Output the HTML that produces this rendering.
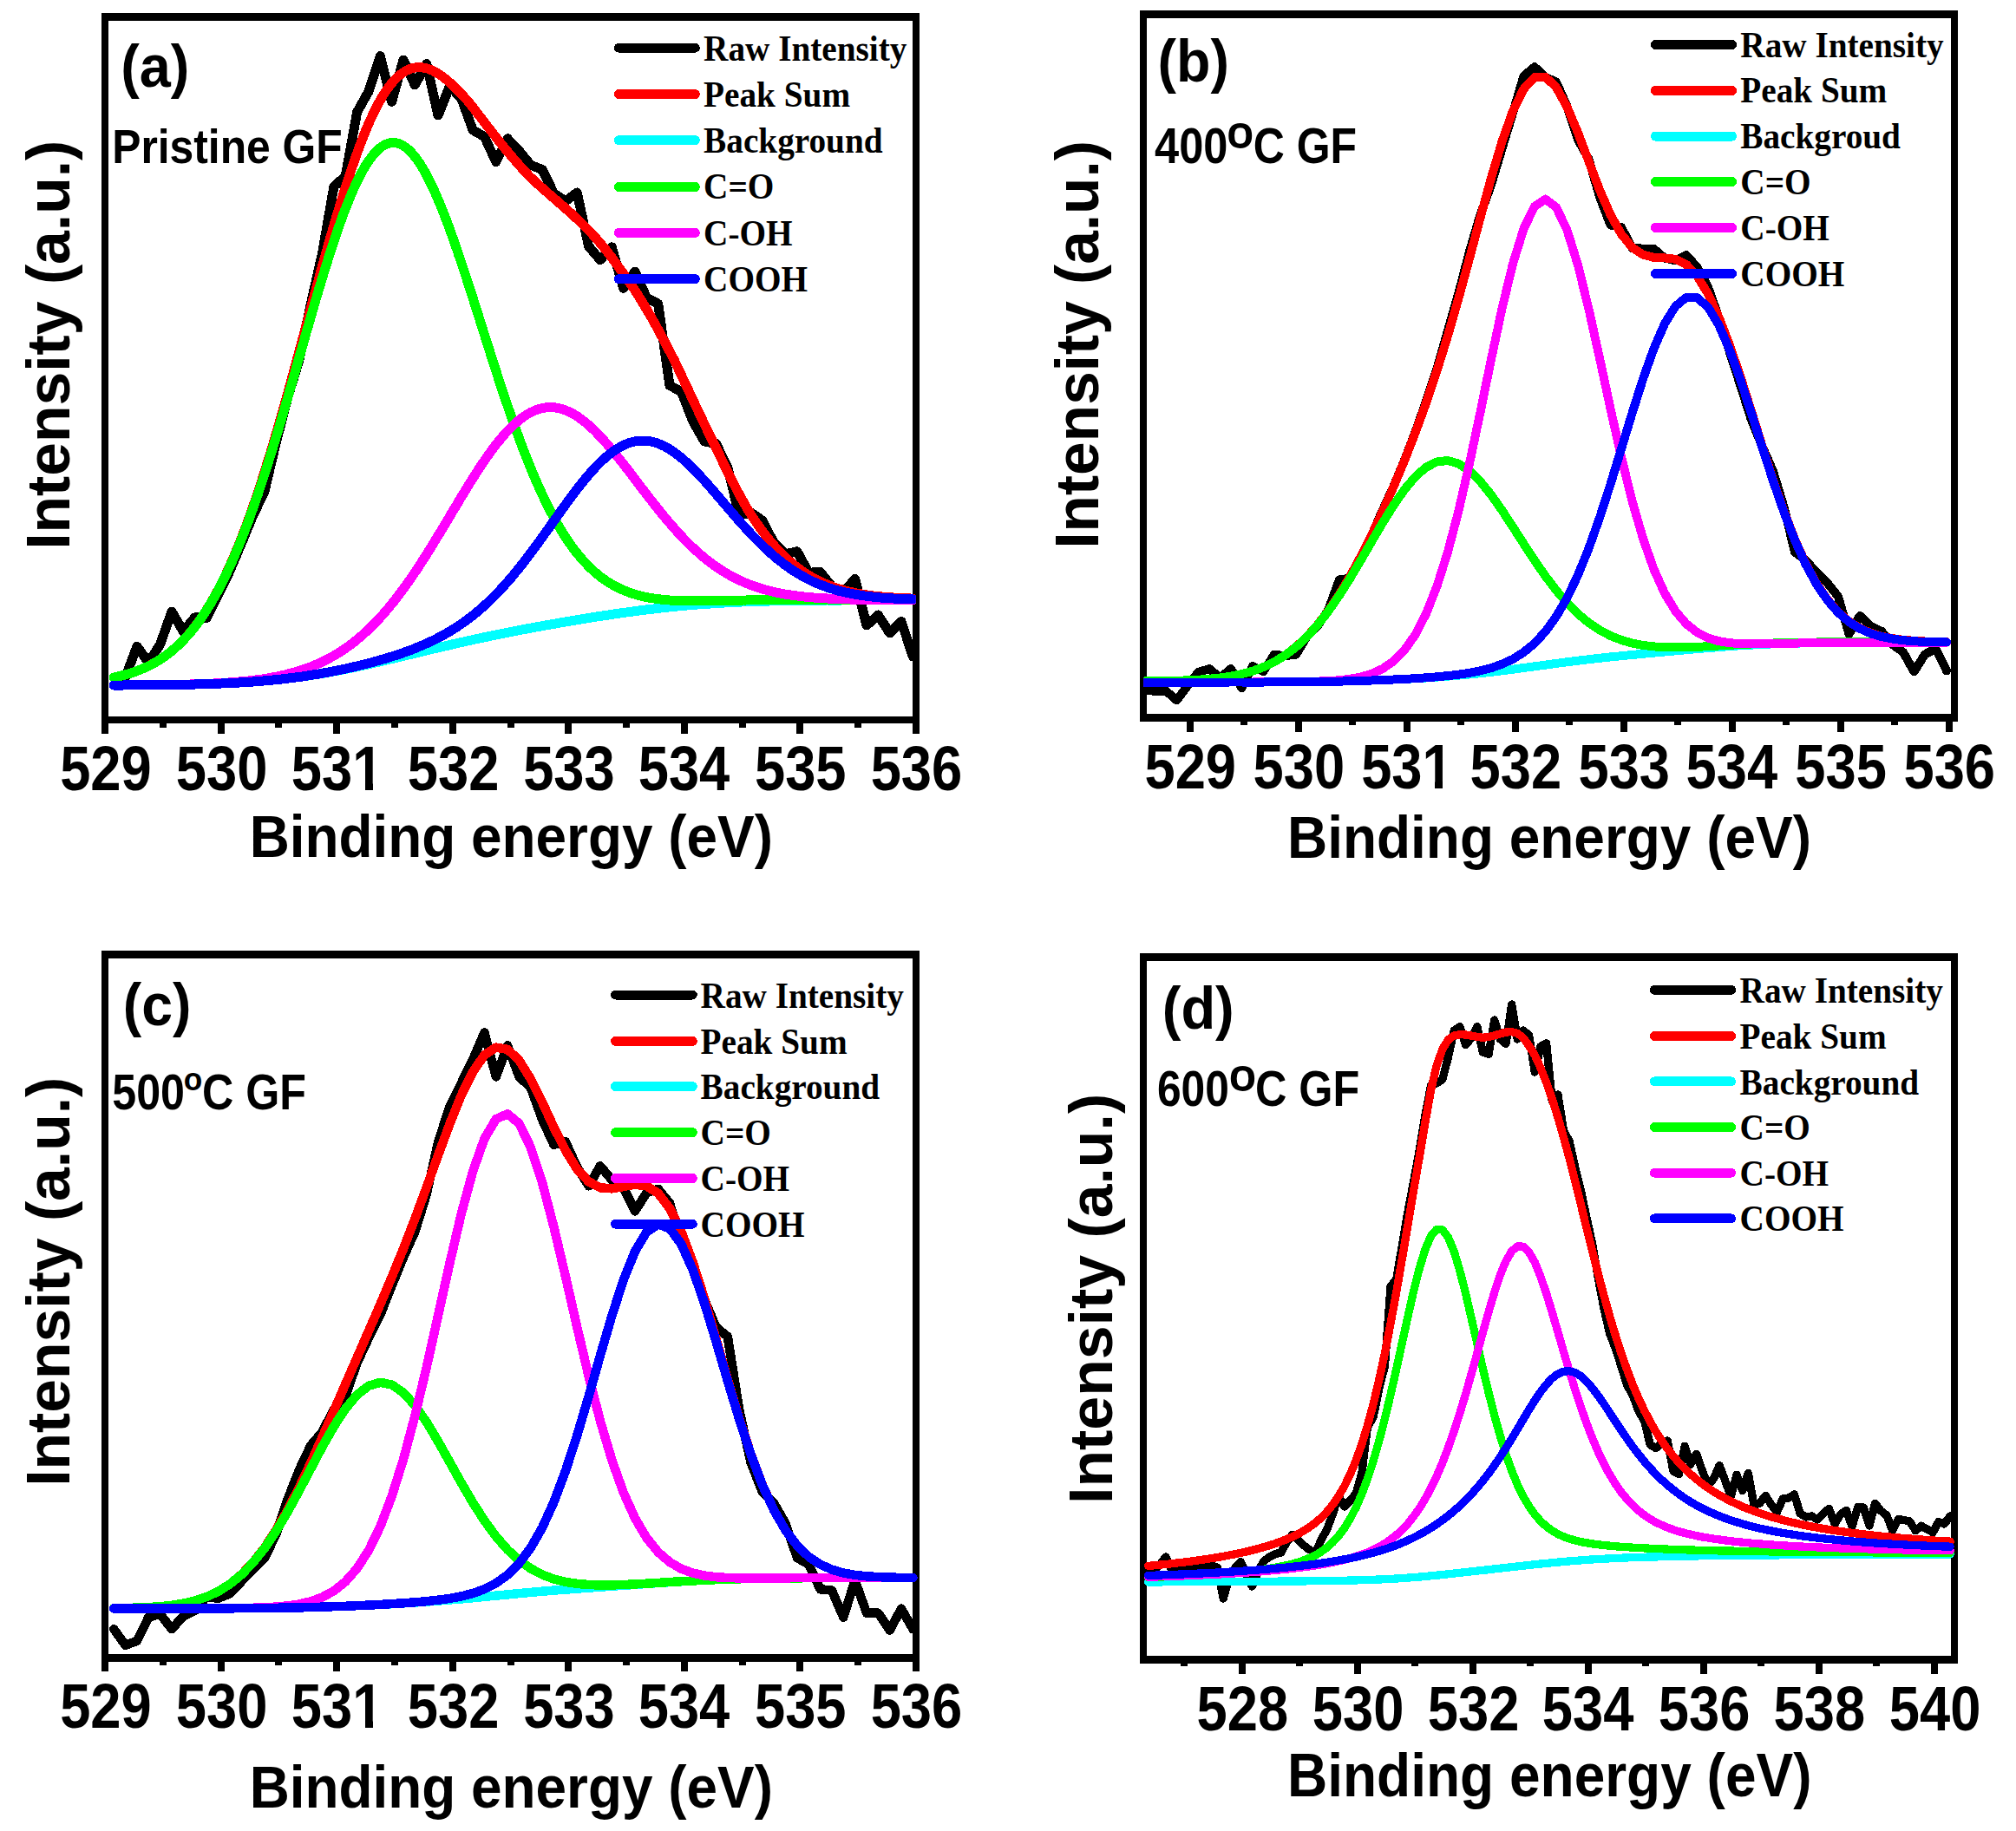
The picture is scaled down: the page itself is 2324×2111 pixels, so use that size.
<!DOCTYPE html><html><head><meta charset="utf-8"><title>XPS O1s</title><style>html,body{margin:0;padding:0;background:#fff}svg{display:block}</style></head><body><svg width="2324" height="2111" viewBox="0 0 2324 2111" shape-rendering="crispEdges">
<rect width="2324" height="2111" fill="#fff"/>
<clipPath id="clipa"><rect x="121.0" y="19.6" width="934.8" height="810.7"/></clipPath>
<path d="M117 15.1H1059.8V834.4H117Z M125 24.0V826.1H1051.9V24.0Z" fill="#000" fill-rule="evenodd"/>
<rect x="117.2" y="833.4" width="8" height="12.9" fill="#000"/>
<rect x="250.7" y="833.4" width="8" height="12.9" fill="#000"/>
<rect x="384.2" y="833.4" width="8" height="12.9" fill="#000"/>
<rect x="517.7" y="833.4" width="8" height="12.9" fill="#000"/>
<rect x="651.2" y="833.4" width="8" height="12.9" fill="#000"/>
<rect x="784.7" y="833.4" width="8" height="12.9" fill="#000"/>
<rect x="918.2" y="833.4" width="8" height="12.9" fill="#000"/>
<rect x="1051.7" y="833.4" width="8" height="12.9" fill="#000"/>
<rect x="183.9" y="833.4" width="8" height="5.2" fill="#000"/>
<rect x="317.4" y="833.4" width="8" height="5.2" fill="#000"/>
<rect x="450.9" y="833.4" width="8" height="5.2" fill="#000"/>
<rect x="584.5" y="833.4" width="8" height="5.2" fill="#000"/>
<rect x="718.0" y="833.4" width="8" height="5.2" fill="#000"/>
<rect x="851.5" y="833.4" width="8" height="5.2" fill="#000"/>
<rect x="985.0" y="833.4" width="8" height="5.2" fill="#000"/>
<g clip-path="url(#clipa)" fill="none" stroke-linejoin="round" stroke-linecap="round">
<polyline points="131.2,781.0 144.6,780.8 157.9,745.3 171.3,764.0 184.6,743.0 198.0,705.1 211.3,728.0 224.7,711.8 238.0,712.5 251.4,686.1 264.7,658.8 278.1,627.1 291.4,595.0 304.8,567.0 318.1,511.0 331.5,459.2 344.8,415.4 358.2,350.9 371.5,292.0 384.9,215.0 398.2,203.3 411.6,129.3 424.9,105.5 438.3,64.6 451.6,117.4 465.0,69.0 478.3,98.0 491.7,73.5 505.0,133.0 518.4,99.5 531.7,113.0 545.1,150.0 558.4,157.6 571.8,186.6 585.1,159.8 598.5,174.0 611.8,190.3 625.2,195.5 638.5,223.0 651.9,232.0 665.2,222.0 678.6,284.0 691.9,299.7 705.3,284.8 718.6,332.4 732.0,313.1 745.3,343.0 758.7,350.3 772.0,444.5 785.4,451.5 798.7,485.5 812.1,509.0 825.4,511.3 838.8,539.0 852.1,594.0 865.5,591.0 878.8,600.0 892.2,625.9 905.5,638.8 918.9,635.8 932.2,660.2 945.6,659.6 958.9,676.0 972.3,683.0 985.6,667.5 999.0,721.0 1012.3,709.0 1025.7,730.0 1039.0,716.4 1052.4,757.0" stroke="#000" stroke-width="11"/>
<polyline points="131.2,781.0 133.9,780.5 136.6,779.9 139.2,779.2 141.9,778.6 144.6,777.8 147.2,777.1 149.9,776.3 152.6,775.4 155.2,774.5 157.9,773.5 160.6,772.5 163.3,771.4 165.9,770.3 168.6,769.1 171.3,767.8 173.9,766.4 176.6,765.0 179.3,763.5 181.9,761.9 184.6,760.2 187.3,758.5 190.0,756.6 192.6,754.6 195.3,752.6 198.0,750.4 200.6,748.2 203.3,745.8 206.0,743.3 208.6,740.7 211.3,738.0 214.0,735.1 216.7,732.1 219.3,729.0 222.0,725.8 224.7,722.4 227.3,718.8 230.0,715.2 232.7,711.3 235.3,707.4 238.0,703.2 240.7,698.9 243.4,694.5 246.0,689.9 248.7,685.1 251.4,680.1 254.0,675.0 256.7,669.7 259.4,664.3 262.0,658.6 264.7,652.8 267.4,646.8 270.1,640.6 272.7,634.3 275.4,627.8 278.1,621.1 280.7,614.2 283.4,607.2 286.1,600.0 288.7,592.6 291.4,585.0 294.1,577.3 296.8,569.4 299.4,561.4 302.1,553.2 304.8,544.8 307.4,536.3 310.1,527.7 312.8,518.9 315.4,510.0 318.1,501.0 320.8,491.8 323.5,482.5 326.1,473.2 328.8,463.7 331.5,454.2 334.1,444.6 336.8,434.9 339.5,425.1 342.1,415.3 344.8,405.4 347.5,395.6 350.2,385.7 352.8,375.7 355.5,365.8 358.2,355.9 360.8,346.0 363.5,336.2 366.2,326.4 368.8,316.6 371.5,307.0 374.2,297.4 376.9,287.8 379.5,278.4 382.2,269.1 384.9,260.0 387.5,250.9 390.2,242.0 392.9,233.3 395.5,224.7 398.2,216.3 400.9,208.1 403.6,199.9 406.2,191.9 408.9,184.2 411.6,176.7 414.2,169.4 416.9,162.4 419.6,155.6 422.2,149.0 424.9,142.8 427.6,136.8 430.3,131.1 432.9,125.6 435.6,120.4 438.3,115.6 440.9,111.0 443.6,106.8 446.3,102.8 448.9,99.2 451.6,95.9 454.3,92.8 457.0,90.0 459.6,87.6 462.3,85.4 465.0,83.5 467.6,81.8 470.3,80.5 473.0,79.4 475.6,78.6 478.3,78.0 481.0,77.7 483.7,77.6 486.3,77.8 489.0,78.2 491.7,78.8 494.3,79.6 497.0,80.7 499.7,81.9 502.3,83.3 505.0,84.9 507.7,86.6 510.4,88.5 513.0,90.6 515.7,92.7 518.4,95.1 521.0,97.5 523.7,100.0 526.4,102.7 529.0,105.4 531.7,108.2 534.4,111.1 537.1,114.0 539.7,117.0 542.4,120.3 545.1,123.7 547.7,127.2 550.4,130.6 553.1,134.1 555.7,137.6 558.4,141.0 561.1,144.5 563.8,148.0 566.4,151.4 569.1,154.9 571.8,158.3 574.4,161.6 577.1,165.0 579.8,168.3 582.4,171.6 585.1,174.8 587.8,178.0 590.5,181.1 593.1,184.2 595.8,187.3 598.5,190.3 601.1,193.3 603.8,196.2 606.5,199.1 609.1,201.9 611.8,204.6 614.5,207.1 617.2,209.6 619.8,212.1 622.5,214.5 625.2,216.9 627.8,219.3 630.5,221.6 633.2,224.0 635.8,226.3 638.5,228.6 641.2,230.9 643.9,233.3 646.5,235.6 649.2,237.9 651.9,240.3 654.5,242.6 657.2,245.0 659.9,247.4 662.5,249.9 665.2,252.4 667.9,254.9 670.6,257.5 673.2,260.1 675.9,262.8 678.6,265.5 681.2,268.3 683.9,271.2 686.6,274.2 689.2,277.2 691.9,280.3 694.6,283.4 697.3,286.7 699.9,290.0 702.6,293.5 705.3,297.0 707.9,300.6 710.6,304.3 713.3,308.1 715.9,311.8 718.6,315.4 721.3,319.1 724.0,322.9 726.6,326.8 729.3,330.8 732.0,334.8 734.6,339.0 737.3,343.2 740.0,347.6 742.6,352.0 745.3,356.5 748.0,361.0 750.7,365.7 753.3,370.4 756.0,375.2 758.7,380.1 761.3,385.0 764.0,389.9 766.7,395.0 769.3,400.0 772.0,405.1 774.7,410.3 777.4,415.5 780.0,421.0 782.7,426.7 785.4,432.4 788.0,438.1 790.7,443.8 793.4,449.5 796.0,455.2 798.7,460.9 801.4,466.6 804.1,472.3 806.7,477.9 809.4,483.5 812.1,489.1 814.7,494.6 817.4,500.1 820.1,505.6 822.7,511.0 825.4,516.3 828.1,521.8 830.8,527.4 833.4,533.0 836.1,538.5 838.8,543.9 841.4,549.2 844.1,554.5 846.8,559.7 849.4,564.8 852.1,569.8 854.8,574.7 857.5,579.5 860.1,584.2 862.8,588.8 865.5,593.0 868.1,597.0 870.8,601.0 873.5,604.8 876.1,608.6 878.8,612.2 881.5,615.8 884.2,619.2 886.8,622.5 889.5,625.8 892.2,628.9 894.8,631.9 897.5,634.8 900.2,637.7 902.8,640.3 905.5,642.8 908.2,645.3 910.9,647.6 913.5,649.9 916.2,652.0 918.9,654.1 921.5,656.1 924.2,658.0 926.9,659.8 929.5,661.6 932.2,663.2 934.9,664.8 937.6,666.3 940.2,667.8 942.9,669.2 945.6,670.5 948.2,671.7 950.9,672.9 953.6,674.0 956.2,675.1 958.9,676.1 961.6,677.0 964.3,678.0 966.9,678.8 969.6,679.6 972.3,680.4 974.9,681.1 977.6,681.8 980.3,682.4 982.9,683.0 985.6,683.6 988.3,684.1 991.0,684.6 993.6,685.1 996.3,685.5 999.0,685.9 1001.6,686.3 1004.3,686.6 1007.0,687.0 1009.6,687.3 1012.3,687.6 1015.0,687.8 1017.7,688.1 1020.3,688.3 1023.0,688.6 1025.7,688.8 1028.3,688.9 1031.0,689.1 1033.7,689.3 1036.3,689.4 1039.0,689.6 1041.7,689.7 1044.4,689.8 1047.0,689.9 1049.7,690.0 1052.4,690.1" stroke="#f00" stroke-width="11"/>
<polyline points="131.2,790.0 133.9,790.0 136.6,790.0 139.2,790.0 141.9,790.0 144.6,789.9 147.2,789.9 149.9,789.9 152.6,789.9 155.2,789.9 157.9,789.9 160.6,789.9 163.3,789.8 165.9,789.8 168.6,789.8 171.3,789.8 173.9,789.8 176.6,789.7 179.3,789.7 181.9,789.7 184.6,789.7 187.3,789.6 190.0,789.6 192.6,789.6 195.3,789.5 198.0,789.5 200.6,789.5 203.3,789.4 206.0,789.4 208.6,789.3 211.3,789.3 214.0,789.2 216.7,789.2 219.3,789.1 222.0,789.1 224.7,789.0 227.3,788.9 230.0,788.9 232.7,788.8 235.3,788.7 238.0,788.6 240.7,788.5 243.4,788.5 246.0,788.4 248.7,788.3 251.4,788.2 254.0,788.1 256.7,787.9 259.4,787.8 262.0,787.7 264.7,787.6 267.4,787.4 270.1,787.3 272.7,787.2 275.4,787.0 278.1,786.9 280.7,786.7 283.4,786.5 286.1,786.3 288.7,786.2 291.4,786.0 294.1,785.8 296.8,785.6 299.4,785.4 302.1,785.1 304.8,784.9 307.4,784.7 310.1,784.4 312.8,784.2 315.4,783.9 318.1,783.6 320.8,783.4 323.5,783.1 326.1,782.8 328.8,782.5 331.5,782.2 334.1,781.9 336.8,781.5 339.5,781.2 342.1,780.8 344.8,780.5 347.5,780.1 350.2,779.7 352.8,779.4 355.5,779.0 358.2,778.6 360.8,778.1 363.5,777.7 366.2,777.3 368.8,776.9 371.5,776.4 374.2,776.0 376.9,775.5 379.5,775.0 382.2,774.5 384.9,774.0 387.5,773.5 390.2,773.0 392.9,772.5 395.5,772.0 398.2,771.5 400.9,770.9 403.6,770.4 406.2,769.8 408.9,769.3 411.6,768.7 414.2,768.1 416.9,767.6 419.6,767.0 422.2,766.4 424.9,765.8 427.6,765.2 430.3,764.6 432.9,764.0 435.6,763.4 438.3,762.7 440.9,762.1 443.6,761.5 446.3,760.9 448.9,760.2 451.6,759.6 454.3,759.0 457.0,758.3 459.6,757.7 462.3,757.0 465.0,756.4 467.6,755.7 470.3,755.1 473.0,754.5 475.6,753.8 478.3,753.2 481.0,752.5 483.7,751.9 486.3,751.2 489.0,750.6 491.7,749.9 494.3,749.3 497.0,748.7 499.7,748.0 502.3,747.4 505.0,746.8 507.7,746.1 510.4,745.5 513.0,744.9 515.7,744.3 518.4,743.6 521.0,743.0 523.7,742.4 526.4,741.8 529.0,741.2 531.7,740.6 534.4,740.0 537.1,739.4 539.7,738.8 542.4,738.2 545.1,737.6 547.7,737.0 550.4,736.5 553.1,735.9 555.7,735.3 558.4,734.7 561.1,734.2 563.8,733.6 566.4,733.1 569.1,732.5 571.8,732.0 574.4,731.4 577.1,730.9 579.8,730.3 582.4,729.8 585.1,729.3 587.8,728.7 590.5,728.2 593.1,727.7 595.8,727.2 598.5,726.7 601.1,726.1 603.8,725.6 606.5,725.1 609.1,724.6 611.8,724.1 614.5,723.6 617.2,723.1 619.8,722.6 622.5,722.2 625.2,721.7 627.8,721.2 630.5,720.7 633.2,720.2 635.8,719.7 638.5,719.3 641.2,718.8 643.9,718.3 646.5,717.9 649.2,717.4 651.9,717.0 654.5,716.5 657.2,716.0 659.9,715.6 662.5,715.1 665.2,714.7 667.9,714.3 670.6,713.8 673.2,713.4 675.9,712.9 678.6,712.5 681.2,712.1 683.9,711.7 686.6,711.2 689.2,710.8 691.9,710.4 694.6,710.0 697.3,709.6 699.9,709.2 702.6,708.8 705.3,708.4 707.9,708.0 710.6,707.6 713.3,707.2 715.9,706.8 718.6,706.5 721.3,706.1 724.0,705.7 726.6,705.4 729.3,705.0 732.0,704.6 734.6,704.3 737.3,703.9 740.0,703.6 742.6,703.3 745.3,702.9 748.0,702.6 750.7,702.3 753.3,702.0 756.0,701.7 758.7,701.4 761.3,701.1 764.0,700.8 766.7,700.5 769.3,700.2 772.0,699.9 774.7,699.6 777.4,699.4 780.0,699.1 782.7,698.9 785.4,698.6 788.0,698.4 790.7,698.1 793.4,697.9 796.0,697.7 798.7,697.5 801.4,697.2 804.1,697.0 806.7,696.8 809.4,696.6 812.1,696.4 814.7,696.2 817.4,696.1 820.1,695.9 822.7,695.7 825.4,695.5 828.1,695.4 830.8,695.2 833.4,695.1 836.1,694.9 838.8,694.8 841.4,694.7 844.1,694.5 846.8,694.4 849.4,694.3 852.1,694.2 854.8,694.0 857.5,693.9 860.1,693.8 862.8,693.7 865.5,693.6 868.1,693.5 870.8,693.4 873.5,693.4 876.1,693.3 878.8,693.2 881.5,693.1 884.2,693.1 886.8,693.0 889.5,692.9 892.2,692.9 894.8,692.8 897.5,692.7 900.2,692.7 902.8,692.6 905.5,692.6 908.2,692.5 910.9,692.5 913.5,692.5 916.2,692.4 918.9,692.4 921.5,692.3 924.2,692.3 926.9,692.3 929.5,692.2 932.2,692.2 934.9,692.2 937.6,692.2 940.2,692.1 942.9,692.1 945.6,692.1 948.2,692.1 950.9,692.1 953.6,692.0 956.2,692.0 958.9,692.0 961.6,692.0 964.3,692.0 966.9,692.0 969.6,692.0 972.3,691.9 974.9,691.9 977.6,691.9 980.3,691.9 982.9,691.9 985.6,691.9 988.3,691.9 991.0,691.9 993.6,691.9 996.3,691.9 999.0,691.9 1001.6,691.9 1004.3,691.9 1007.0,691.8 1009.6,691.8 1012.3,691.8 1015.0,691.8 1017.7,691.8 1020.3,691.8 1023.0,691.8 1025.7,691.8 1028.3,691.8 1031.0,691.8 1033.7,691.8 1036.3,691.8 1039.0,691.8 1041.7,691.8 1044.4,691.8 1047.0,691.8 1049.7,691.8 1052.4,691.8" stroke="#0ff" stroke-width="11"/>
<polyline points="131.2,781.0 133.9,780.5 136.6,779.9 139.2,779.2 141.9,778.6 144.6,777.8 147.2,777.1 149.9,776.3 152.6,775.4 155.2,774.5 157.9,773.6 160.6,772.5 163.3,771.4 165.9,770.3 168.6,769.1 171.3,767.8 173.9,766.5 176.6,765.0 179.3,763.5 181.9,761.9 184.6,760.3 187.3,758.5 190.0,756.6 192.6,754.7 195.3,752.6 198.0,750.5 200.6,748.2 203.3,745.9 206.0,743.4 208.6,740.8 211.3,738.1 214.0,735.2 216.7,732.3 219.3,729.2 222.0,725.9 224.7,722.6 227.3,719.0 230.0,715.4 232.7,711.6 235.3,707.6 238.0,703.5 240.7,699.2 243.4,694.8 246.0,690.2 248.7,685.5 251.4,680.6 254.0,675.5 256.7,670.2 259.4,664.8 262.0,659.2 264.7,653.5 267.4,647.6 270.1,641.5 272.7,635.2 275.4,628.8 278.1,622.1 280.7,615.4 283.4,608.4 286.1,601.3 288.7,594.0 291.4,586.6 294.1,579.0 296.8,571.3 299.4,563.4 302.1,555.3 304.8,547.2 307.4,538.9 310.1,530.4 312.8,521.9 315.4,513.2 318.1,504.4 320.8,495.5 323.5,486.6 326.1,477.5 328.8,468.4 331.5,459.2 334.1,449.9 336.8,440.6 339.5,431.3 342.1,421.9 344.8,412.5 347.5,403.1 350.2,393.8 352.8,384.4 355.5,375.1 358.2,365.8 360.8,356.6 363.5,347.4 366.2,338.3 368.8,329.4 371.5,320.5 374.2,311.8 376.9,303.2 379.5,294.7 382.2,286.4 384.9,278.3 387.5,270.3 390.2,262.6 392.9,255.1 395.5,247.8 398.2,240.7 400.9,233.9 403.6,227.4 406.2,221.1 408.9,215.1 411.6,209.4 414.2,204.0 416.9,198.9 419.6,194.1 422.2,189.7 424.9,185.6 427.6,181.9 430.3,178.5 432.9,175.4 435.6,172.8 438.3,170.5 440.9,168.5 443.6,167.0 446.3,165.8 448.9,165.0 451.6,164.6 454.3,164.5 457.0,164.9 459.6,165.6 462.3,166.6 465.0,168.1 467.6,169.9 470.3,172.1 473.0,174.6 475.6,177.5 478.3,180.7 481.0,184.3 483.7,188.2 486.3,192.4 489.0,196.9 491.7,201.8 494.3,206.9 497.0,212.3 499.7,217.9 502.3,223.8 505.0,230.0 507.7,236.4 510.4,243.0 513.0,249.9 515.7,256.9 518.4,264.1 521.0,271.5 523.7,279.0 526.4,286.7 529.0,294.6 531.7,302.5 534.4,310.6 537.1,318.7 539.7,326.9 542.4,335.2 545.1,343.6 547.7,352.0 550.4,360.4 553.1,368.8 555.7,377.3 558.4,385.7 561.1,394.2 563.8,402.6 566.4,411.0 569.1,419.3 571.8,427.6 574.4,435.8 577.1,443.9 579.8,452.0 582.4,459.9 585.1,467.8 587.8,475.6 590.5,483.2 593.1,490.8 595.8,498.2 598.5,505.5 601.1,512.6 603.8,519.6 606.5,526.5 609.1,533.2 611.8,539.8 614.5,546.2 617.2,552.5 619.8,558.6 622.5,564.5 625.2,570.3 627.8,575.9 630.5,581.4 633.2,586.7 635.8,591.8 638.5,596.8 641.2,601.6 643.9,606.3 646.5,610.8 649.2,615.1 651.9,619.3 654.5,623.3 657.2,627.2 659.9,630.9 662.5,634.4 665.2,637.9 667.9,641.1 670.6,644.3 673.2,647.3 675.9,650.1 678.6,652.9 681.2,655.5 683.9,657.9 686.6,660.3 689.2,662.5 691.9,664.7 694.6,666.7 697.3,668.6 699.9,670.4 702.6,672.1 705.3,673.7 707.9,675.2 710.6,676.6 713.3,678.0 715.9,679.2 718.6,680.4 721.3,681.5 724.0,682.5 726.6,683.5 729.3,684.4 732.0,685.2 734.6,686.0 737.3,686.7 740.0,687.4 742.6,688.0 745.3,688.5 748.0,689.1 750.7,689.5 753.3,689.9 756.0,690.3 758.7,690.7 761.3,691.0 764.0,691.3 766.7,691.5 769.3,691.8 772.0,692.0 774.7,692.2 777.4,692.3 780.0,692.4 782.7,692.6 785.4,692.6 788.0,692.7 790.7,692.8 793.4,692.8 796.0,692.9 798.7,692.9 801.4,692.9 804.1,692.9 806.7,692.9 809.4,692.9 812.1,692.9 814.7,692.9 817.4,692.8 820.1,692.8 822.7,692.7 825.4,692.7 828.1,692.7 830.8,692.6 833.4,692.6 836.1,692.5 838.8,692.4 841.4,692.4 844.1,692.3 846.8,692.3 849.4,692.2 852.1,692.2 854.8,692.1 857.5,692.0 860.1,692.0 862.8,691.9 865.5,691.9 868.1,691.8 870.8,691.8 873.5,691.7 876.1,691.7 878.8,691.6 881.5,691.6 884.2,691.6 886.8,691.5 889.5,691.5 892.2,691.4 894.8,691.4 897.5,691.4 900.2,691.3 902.8,691.3 905.5,691.3 908.2,691.3 910.9,691.2 913.5,691.2 916.2,691.2 918.9,691.2 921.5,691.1 924.2,691.1 926.9,691.1 929.5,691.1 932.2,691.1 934.9,691.1 937.6,691.1 940.2,691.0 942.9,691.0 945.6,691.0 948.2,691.0 950.9,691.0 953.6,691.0 956.2,691.0 958.9,691.0 961.6,691.0 964.3,691.0 966.9,691.0 969.6,691.0 972.3,691.0 974.9,691.0 977.6,691.0 980.3,691.0 982.9,691.0 985.6,691.0 988.3,691.0 991.0,691.0 993.6,691.0 996.3,691.0 999.0,691.0 1001.6,691.0 1004.3,691.0 1007.0,691.0 1009.6,691.0 1012.3,691.0 1015.0,691.0 1017.7,691.0 1020.3,691.0 1023.0,691.0 1025.7,691.0 1028.3,691.0 1031.0,691.0 1033.7,691.0 1036.3,691.0 1039.0,691.0 1041.7,691.0 1044.4,691.1 1047.0,691.1 1049.7,691.1 1052.4,691.1" stroke="#0f0" stroke-width="11"/>
<polyline points="131.2,790.0 133.9,790.0 136.6,790.0 139.2,790.0 141.9,790.0 144.6,789.9 147.2,789.9 149.9,789.9 152.6,789.9 155.2,789.9 157.9,789.9 160.6,789.8 163.3,789.8 165.9,789.8 168.6,789.8 171.3,789.8 173.9,789.7 176.6,789.7 179.3,789.7 181.9,789.7 184.6,789.6 187.3,789.6 190.0,789.6 192.6,789.5 195.3,789.5 198.0,789.4 200.6,789.4 203.3,789.3 206.0,789.3 208.6,789.2 211.3,789.2 214.0,789.1 216.7,789.0 219.3,789.0 222.0,788.9 224.7,788.8 227.3,788.7 230.0,788.7 232.7,788.6 235.3,788.5 238.0,788.4 240.7,788.2 243.4,788.1 246.0,788.0 248.7,787.9 251.4,787.7 254.0,787.6 256.7,787.4 259.4,787.3 262.0,787.1 264.7,786.9 267.4,786.7 270.1,786.5 272.7,786.3 275.4,786.0 278.1,785.8 280.7,785.5 283.4,785.3 286.1,785.0 288.7,784.7 291.4,784.4 294.1,784.1 296.8,783.7 299.4,783.3 302.1,783.0 304.8,782.5 307.4,782.1 310.1,781.7 312.8,781.2 315.4,780.7 318.1,780.2 320.8,779.7 323.5,779.1 326.1,778.5 328.8,777.9 331.5,777.2 334.1,776.5 336.8,775.8 339.5,775.1 342.1,774.3 344.8,773.5 347.5,772.6 350.2,771.7 352.8,770.8 355.5,769.8 358.2,768.8 360.8,767.7 363.5,766.6 366.2,765.5 368.8,764.3 371.5,763.0 374.2,761.7 376.9,760.4 379.5,759.0 382.2,757.5 384.9,756.0 387.5,754.4 390.2,752.8 392.9,751.1 395.5,749.3 398.2,747.5 400.9,745.6 403.6,743.7 406.2,741.7 408.9,739.6 411.6,737.4 414.2,735.2 416.9,732.9 419.6,730.5 422.2,728.1 424.9,725.6 427.6,723.0 430.3,720.4 432.9,717.6 435.6,714.8 438.3,711.9 440.9,709.0 443.6,705.9 446.3,702.8 448.9,699.6 451.6,696.4 454.3,693.0 457.0,689.6 459.6,686.2 462.3,682.6 465.0,679.0 467.6,675.3 470.3,671.5 473.0,667.7 475.6,663.8 478.3,659.9 481.0,655.9 483.7,651.8 486.3,647.7 489.0,643.6 491.7,639.4 494.3,635.1 497.0,630.8 499.7,626.5 502.3,622.1 505.0,617.7 507.7,613.3 510.4,608.9 513.0,604.4 515.7,600.0 518.4,595.5 521.0,591.0 523.7,586.5 526.4,582.1 529.0,577.6 531.7,573.2 534.4,568.8 537.1,564.4 539.7,560.0 542.4,555.7 545.1,551.5 547.7,547.3 550.4,543.1 553.1,539.0 555.7,535.0 558.4,531.1 561.1,527.2 563.8,523.4 566.4,519.7 569.1,516.1 571.8,512.6 574.4,509.3 577.1,506.0 579.8,502.8 582.4,499.8 585.1,496.9 587.8,494.1 590.5,491.4 593.1,488.9 595.8,486.6 598.5,484.3 601.1,482.2 603.8,480.3 606.5,478.5 609.1,476.9 611.8,475.5 614.5,474.2 617.2,473.0 619.8,472.0 622.5,471.2 625.2,470.6 627.8,470.1 630.5,469.8 633.2,469.6 635.8,469.6 638.5,469.8 641.2,470.1 643.9,470.6 646.5,471.2 649.2,472.0 651.9,473.0 654.5,474.1 657.2,475.3 659.9,476.7 662.5,478.3 665.2,479.9 667.9,481.7 670.6,483.7 673.2,485.7 675.9,487.9 678.6,490.2 681.2,492.6 683.9,495.1 686.6,497.7 689.2,500.5 691.9,503.3 694.6,506.1 697.3,509.1 699.9,512.1 702.6,515.3 705.3,518.4 707.9,521.7 710.6,524.9 713.3,528.3 715.9,531.6 718.6,535.0 721.3,538.5 724.0,541.9 726.6,545.4 729.3,548.9 732.0,552.4 734.6,555.9 737.3,559.4 740.0,563.0 742.6,566.4 745.3,569.9 748.0,573.4 750.7,576.8 753.3,580.2 756.0,583.6 758.7,587.0 761.3,590.3 764.0,593.6 766.7,596.8 769.3,600.0 772.0,603.1 774.7,606.2 777.4,609.2 780.0,612.2 782.7,615.2 785.4,618.0 788.0,620.8 790.7,623.6 793.4,626.2 796.0,628.9 798.7,631.4 801.4,633.9 804.1,636.3 806.7,638.7 809.4,640.9 812.1,643.2 814.7,645.3 817.4,647.4 820.1,649.4 822.7,651.4 825.4,653.3 828.1,655.1 830.8,656.9 833.4,658.6 836.1,660.2 838.8,661.8 841.4,663.3 844.1,664.8 846.8,666.2 849.4,667.5 852.1,668.8 854.8,670.0 857.5,671.2 860.1,672.3 862.8,673.4 865.5,674.4 868.1,675.4 870.8,676.4 873.5,677.3 876.1,678.1 878.8,678.9 881.5,679.7 884.2,680.4 886.8,681.1 889.5,681.8 892.2,682.4 894.8,683.0 897.5,683.6 900.2,684.1 902.8,684.6 905.5,685.1 908.2,685.5 910.9,685.9 913.5,686.3 916.2,686.7 918.9,687.0 921.5,687.4 924.2,687.7 926.9,688.0 929.5,688.2 932.2,688.5 934.9,688.7 937.6,689.0 940.2,689.2 942.9,689.4 945.6,689.5 948.2,689.7 950.9,689.9 953.6,690.0 956.2,690.2 958.9,690.3 961.6,690.4 964.3,690.5 966.9,690.6 969.6,690.7 972.3,690.8 974.9,690.9 977.6,690.9 980.3,691.0 982.9,691.1 985.6,691.1 988.3,691.2 991.0,691.2 993.6,691.3 996.3,691.3 999.0,691.4 1001.6,691.4 1004.3,691.4 1007.0,691.5 1009.6,691.5 1012.3,691.5 1015.0,691.6 1017.7,691.6 1020.3,691.6 1023.0,691.6 1025.7,691.6 1028.3,691.6 1031.0,691.7 1033.7,691.7 1036.3,691.7 1039.0,691.7 1041.7,691.7 1044.4,691.7 1047.0,691.7 1049.7,691.7 1052.4,691.7" stroke="#f0f" stroke-width="11"/>
<polyline points="131.2,790.0 133.9,790.0 136.6,790.0 139.2,790.0 141.9,790.0 144.6,789.9 147.2,789.9 149.9,789.9 152.6,789.9 155.2,789.9 157.9,789.9 160.6,789.9 163.3,789.8 165.9,789.8 168.6,789.8 171.3,789.8 173.9,789.8 176.6,789.7 179.3,789.7 181.9,789.7 184.6,789.7 187.3,789.6 190.0,789.6 192.6,789.6 195.3,789.5 198.0,789.5 200.6,789.5 203.3,789.4 206.0,789.4 208.6,789.3 211.3,789.3 214.0,789.2 216.7,789.2 219.3,789.1 222.0,789.1 224.7,789.0 227.3,788.9 230.0,788.9 232.7,788.8 235.3,788.7 238.0,788.6 240.7,788.5 243.4,788.5 246.0,788.4 248.7,788.3 251.4,788.2 254.0,788.1 256.7,787.9 259.4,787.8 262.0,787.7 264.7,787.6 267.4,787.4 270.1,787.3 272.7,787.2 275.4,787.0 278.1,786.9 280.7,786.7 283.4,786.5 286.1,786.3 288.7,786.2 291.4,786.0 294.1,785.8 296.8,785.6 299.4,785.3 302.1,785.1 304.8,784.9 307.4,784.7 310.1,784.4 312.8,784.2 315.4,783.9 318.1,783.6 320.8,783.4 323.5,783.1 326.1,782.8 328.8,782.5 331.5,782.1 334.1,781.8 336.8,781.5 339.5,781.1 342.1,780.8 344.8,780.4 347.5,780.1 350.2,779.7 352.8,779.3 355.5,778.9 358.2,778.5 360.8,778.0 363.5,777.6 366.2,777.2 368.8,776.7 371.5,776.2 374.2,775.8 376.9,775.3 379.5,774.8 382.2,774.3 384.9,773.8 387.5,773.2 390.2,772.7 392.9,772.2 395.5,771.6 398.2,771.0 400.9,770.4 403.6,769.8 406.2,769.2 408.9,768.6 411.6,768.0 414.2,767.4 416.9,766.7 419.6,766.0 422.2,765.4 424.9,764.7 427.6,764.0 430.3,763.3 432.9,762.5 435.6,761.8 438.3,761.0 440.9,760.2 443.6,759.5 446.3,758.7 448.9,757.8 451.6,757.0 454.3,756.1 457.0,755.3 459.6,754.4 462.3,753.5 465.0,752.5 467.6,751.6 470.3,750.6 473.0,749.6 475.6,748.6 478.3,747.5 481.0,746.4 483.7,745.3 486.3,744.2 489.0,743.0 491.7,741.9 494.3,740.6 497.0,739.4 499.7,738.1 502.3,736.8 505.0,735.4 507.7,734.0 510.4,732.6 513.0,731.1 515.7,729.5 518.4,728.0 521.0,726.4 523.7,724.7 526.4,723.0 529.0,721.2 531.7,719.4 534.4,717.5 537.1,715.6 539.7,713.6 542.4,711.6 545.1,709.5 547.7,707.4 550.4,705.2 553.1,702.9 555.7,700.6 558.4,698.2 561.1,695.7 563.8,693.2 566.4,690.6 569.1,688.0 571.8,685.3 574.4,682.5 577.1,679.7 579.8,676.8 582.4,673.8 585.1,670.8 587.8,667.7 590.5,664.6 593.1,661.4 595.8,658.1 598.5,654.8 601.1,651.5 603.8,648.1 606.5,644.6 609.1,641.1 611.8,637.6 614.5,634.0 617.2,630.4 619.8,626.7 622.5,623.0 625.2,619.3 627.8,615.6 630.5,611.9 633.2,608.1 635.8,604.3 638.5,600.6 641.2,596.8 643.9,593.1 646.5,589.3 649.2,585.6 651.9,581.9 654.5,578.2 657.2,574.6 659.9,571.0 662.5,567.5 665.2,564.0 667.9,560.5 670.6,557.2 673.2,553.9 675.9,550.6 678.6,547.5 681.2,544.4 683.9,541.5 686.6,538.6 689.2,535.8 691.9,533.2 694.6,530.6 697.3,528.2 699.9,525.9 702.6,523.7 705.3,521.6 707.9,519.7 710.6,517.9 713.3,516.3 715.9,514.8 718.6,513.4 721.3,512.2 724.0,511.1 726.6,510.2 729.3,509.5 732.0,508.9 734.6,508.4 737.3,508.2 740.0,508.0 742.6,508.0 745.3,508.2 748.0,508.5 750.7,509.0 753.3,509.6 756.0,510.4 758.7,511.3 761.3,512.4 764.0,513.6 766.7,514.9 769.3,516.4 772.0,518.0 774.7,519.7 777.4,521.6 780.0,523.5 782.7,525.6 785.4,527.8 788.0,530.1 790.7,532.4 793.4,534.9 796.0,537.5 798.7,540.1 801.4,542.8 804.1,545.5 806.7,548.4 809.4,551.3 812.1,554.2 814.7,557.2 817.4,560.2 820.1,563.3 822.7,566.3 825.4,569.5 828.1,572.6 830.8,575.7 833.4,578.8 836.1,582.0 838.8,585.1 841.4,588.3 844.1,591.4 846.8,594.5 849.4,597.5 852.1,600.6 854.8,603.6 857.5,606.6 860.1,609.5 862.8,612.5 865.5,615.3 868.1,618.1 870.8,620.9 873.5,623.6 876.1,626.3 878.8,628.9 881.5,631.5 884.2,633.9 886.8,636.4 889.5,638.8 892.2,641.1 894.8,643.3 897.5,645.5 900.2,647.6 902.8,649.7 905.5,651.7 908.2,653.6 910.9,655.5 913.5,657.3 916.2,659.0 918.9,660.7 921.5,662.3 924.2,663.8 926.9,665.3 929.5,666.7 932.2,668.1 934.9,669.4 937.6,670.7 940.2,671.9 942.9,673.0 945.6,674.1 948.2,675.1 950.9,676.1 953.6,677.1 956.2,678.0 958.9,678.8 961.6,679.7 964.3,680.4 966.9,681.2 969.6,681.8 972.3,682.5 974.9,683.1 977.6,683.7 980.3,684.2 982.9,684.8 985.6,685.2 988.3,685.7 991.0,686.1 993.6,686.5 996.3,686.9 999.0,687.3 1001.6,687.6 1004.3,687.9 1007.0,688.2 1009.6,688.5 1012.3,688.7 1015.0,689.0 1017.7,689.2 1020.3,689.4 1023.0,689.6 1025.7,689.7 1028.3,689.9 1031.0,690.1 1033.7,690.2 1036.3,690.3 1039.0,690.5 1041.7,690.6 1044.4,690.7 1047.0,690.8 1049.7,690.9 1052.4,690.9" stroke="#00f" stroke-width="11"/>
</g>
<line x1="713.4" x2="801.3" y1="55.1" y2="55.1" stroke="#000" stroke-width="11" stroke-linecap="round"/>
<text transform="matrix(0.39250 0 0 0.42100 811.10 70.20)" font-family="'Liberation Serif', serif" font-weight="bold" font-size="100" >Raw Intensity</text>
<line x1="713.4" x2="801.3" y1="108.6" y2="108.6" stroke="#f00" stroke-width="11" stroke-linecap="round"/>
<text transform="matrix(0.39250 0 0 0.42100 811.10 122.80)" font-family="'Liberation Serif', serif" font-weight="bold" font-size="100" >Peak Sum</text>
<line x1="713.4" x2="801.3" y1="161.7" y2="161.7" stroke="#0ff" stroke-width="11" stroke-linecap="round"/>
<text transform="matrix(0.39250 0 0 0.42100 811.10 176.10)" font-family="'Liberation Serif', serif" font-weight="bold" font-size="100" >Background</text>
<line x1="713.4" x2="801.3" y1="215.5" y2="215.5" stroke="#0f0" stroke-width="11" stroke-linecap="round"/>
<text transform="matrix(0.39250 0 0 0.42100 811.10 229.40)" font-family="'Liberation Serif', serif" font-weight="bold" font-size="100" >C=O</text>
<line x1="713.4" x2="801.3" y1="268.4" y2="268.4" stroke="#f0f" stroke-width="11" stroke-linecap="round"/>
<text transform="matrix(0.39250 0 0 0.42100 811.10 282.70)" font-family="'Liberation Serif', serif" font-weight="bold" font-size="100" >C-OH</text>
<line x1="713.4" x2="801.3" y1="321.7" y2="321.7" stroke="#00f" stroke-width="11" stroke-linecap="round"/>
<text transform="matrix(0.39250 0 0 0.42100 811.10 336.10)" font-family="'Liberation Serif', serif" font-weight="bold" font-size="100" >COOH</text>
<text transform="matrix(0.63300 0 0 0.71600 69.16 911.30)" font-family="'Liberation Sans', sans-serif" font-weight="bold" font-size="100" >529</text>
<text transform="matrix(0.63300 0 0 0.71600 202.76 911.30)" font-family="'Liberation Sans', sans-serif" font-weight="bold" font-size="100" >530</text>
<text transform="matrix(0.63300 0 0 0.71600 335.84 911.30)" font-family="'Liberation Sans', sans-serif" font-weight="bold" font-size="100" >531</text>
<path transform="matrix(0.63300 0 0 0.71600 335.84 911.30)" fill="#fff" d="M115.7 -12.6H134.5V1.5H115.7Z M148.4 -12.6H165.7V1.5H148.4Z"/>
<text transform="matrix(0.63300 0 0 0.71600 469.76 911.30)" font-family="'Liberation Sans', sans-serif" font-weight="bold" font-size="100" >532</text>
<text transform="matrix(0.63300 0 0 0.71600 603.16 911.30)" font-family="'Liberation Sans', sans-serif" font-weight="bold" font-size="100" >533</text>
<text transform="matrix(0.63300 0 0 0.71600 735.71 911.30)" font-family="'Liberation Sans', sans-serif" font-weight="bold" font-size="100" >534</text>
<text transform="matrix(0.63300 0 0 0.71600 869.94 911.30)" font-family="'Liberation Sans', sans-serif" font-weight="bold" font-size="100" >535</text>
<text transform="matrix(0.63300 0 0 0.71600 1003.66 911.30)" font-family="'Liberation Sans', sans-serif" font-weight="bold" font-size="100" >536</text>
<text transform="matrix(0.63891 0 0 0.68327 287.64 988.02)" font-family="'Liberation Sans', sans-serif" font-weight="bold" font-size="100" >Binding energy (eV)</text>
<text transform="matrix(0 -0.69665 0.70645 0 79.70 633.84)" font-family="'Liberation Sans', sans-serif" font-weight="bold" font-size="100">Intensity (a.u.)</text>
<text transform="matrix(0.64807 0 0 0.68925 139.26 100.46)" font-family="'Liberation Sans', sans-serif" font-weight="bold" font-size="100" >(a)</text>
<text transform="matrix(0.49790 0 0 0.55750 129.18 187.50)" font-family="'Liberation Sans', sans-serif" font-weight="bold" font-size="100" >Pristine GF</text>
<clipPath id="clipb"><rect x="1318.1" y="16.4" width="935.1" height="811.1"/></clipPath>
<path d="M1313.9 11.9H2257V831.6H1313.9Z M1322.2 20.9V823.3H2249.3V20.9Z" fill="#000" fill-rule="evenodd"/>
<rect x="1367.5" y="830.6" width="8" height="12.9" fill="#000"/>
<rect x="1492.5" y="830.6" width="8" height="12.9" fill="#000"/>
<rect x="1617.5" y="830.6" width="8" height="12.9" fill="#000"/>
<rect x="1742.5" y="830.6" width="8" height="12.9" fill="#000"/>
<rect x="1867.5" y="830.6" width="8" height="12.9" fill="#000"/>
<rect x="1992.5" y="830.6" width="8" height="12.9" fill="#000"/>
<rect x="2117.5" y="830.6" width="8" height="12.9" fill="#000"/>
<rect x="2242.5" y="830.6" width="8" height="12.9" fill="#000"/>
<rect x="1430.0" y="830.6" width="8" height="4.9" fill="#000"/>
<rect x="1555.0" y="830.6" width="8" height="4.9" fill="#000"/>
<rect x="1680.0" y="830.6" width="8" height="4.9" fill="#000"/>
<rect x="1805.0" y="830.6" width="8" height="4.9" fill="#000"/>
<rect x="1930.0" y="830.6" width="8" height="4.9" fill="#000"/>
<rect x="2055.0" y="830.6" width="8" height="4.9" fill="#000"/>
<rect x="2180.0" y="830.6" width="8" height="4.9" fill="#000"/>
<g clip-path="url(#clipb)" fill="none" stroke-linejoin="round" stroke-linecap="round">
<polyline points="1306.5,784.9 1319.0,795.0 1331.5,797.0 1344.0,796.5 1356.5,807.4 1369.0,790.7 1381.5,775.0 1394.0,771.0 1406.5,781.4 1419.0,771.0 1431.5,793.3 1444.0,768.0 1456.5,774.0 1469.0,754.6 1481.5,756.2 1494.0,754.6 1506.5,734.1 1519.0,721.8 1531.5,702.6 1544.0,668.3 1556.5,666.8 1569.0,640.7 1581.5,616.4 1594.0,587.9 1606.5,560.6 1619.0,530.7 1631.5,498.1 1644.0,462.8 1656.5,425.2 1669.0,381.1 1681.5,337.7 1694.0,289.9 1706.5,247.4 1719.0,213.2 1731.5,171.2 1744.0,130.1 1756.5,87.6 1769.0,77.2 1781.5,88.7 1794.0,94.7 1806.5,122.7 1819.0,161.0 1831.5,183.4 1844.0,226.9 1856.5,259.5 1869.0,261.9 1881.5,286.1 1894.0,286.6 1906.5,286.9 1919.0,297.5 1931.5,300.3 1944.0,294.0 1956.5,308.3 1969.0,330.9 1981.5,366.5 1994.0,406.2 2006.5,444.9 2019.0,484.3 2031.5,514.7 2044.0,543.3 2056.5,584.5 2069.0,636.7 2081.5,645.6 2094.0,660.0 2106.5,672.0 2119.0,687.8 2131.5,731.0 2144.0,710.0 2156.5,722.0 2169.0,727.8 2181.5,743.0 2194.0,752.0 2206.5,774.4 2219.0,754.4 2231.5,747.8 2244.0,773.3" stroke="#000" stroke-width="10"/>
<polyline points="1306.5,785.6 1319.0,785.5 1331.5,785.3 1344.0,785.1 1356.5,784.8 1369.0,784.3 1381.5,783.7 1394.0,782.8 1406.5,781.5 1419.0,779.7 1431.5,777.1 1444.0,773.7 1456.5,769.1 1469.0,763.1 1481.5,755.4 1494.0,745.8 1506.5,734.1 1519.0,720.1 1531.5,703.7 1544.0,684.9 1556.5,664.0 1569.0,641.0 1581.5,616.0 1594.0,589.4 1606.5,561.1 1619.0,531.1 1631.5,499.0 1644.0,464.6 1656.5,427.4 1669.0,387.1 1681.5,343.7 1694.0,297.9 1706.5,251.1 1719.0,205.2 1731.5,163.2 1744.0,128.0 1756.5,102.6 1769.0,89.2 1781.5,88.7 1794.0,100.7 1806.5,123.2 1819.0,153.0 1831.5,186.2 1844.0,218.9 1856.5,247.5 1869.0,269.9 1881.5,285.2 1894.0,293.6 1906.5,296.9 1919.0,297.4 1931.5,298.8 1944.0,305.0 1956.5,318.3 1969.0,338.9 1981.5,365.8 1994.0,398.2 2006.5,434.9 2019.0,474.3 2031.5,514.4 2044.0,553.3 2056.5,589.5 2069.0,621.8 2081.5,649.6 2094.0,672.7 2106.5,691.2 2119.0,705.6 2131.5,716.4 2144.0,724.2 2156.5,729.8 2169.0,733.6 2181.5,736.1 2194.0,737.8 2206.5,738.8 2219.0,739.5 2231.5,739.8 2244.0,740.1" stroke="#f00" stroke-width="10"/>
<polyline points="1306.5,786.6 1319.0,786.6 1331.5,786.6 1344.0,786.6 1356.5,786.6 1369.0,786.6 1381.5,786.6 1394.0,786.6 1406.5,786.6 1419.0,786.5 1431.5,786.5 1444.0,786.5 1456.5,786.5 1469.0,786.4 1481.5,786.3 1494.0,786.2 1506.5,786.1 1519.0,786.0 1531.5,785.8 1544.0,785.6 1556.5,785.3 1569.0,784.9 1581.5,784.5 1594.0,784.1 1606.5,783.5 1619.0,782.9 1631.5,782.3 1644.0,781.5 1656.5,780.6 1669.0,779.7 1681.5,778.6 1694.0,777.5 1706.5,776.2 1719.0,774.8 1731.5,773.3 1744.0,771.7 1756.5,770.0 1769.0,768.3 1781.5,766.6 1794.0,764.9 1806.5,763.2 1819.0,761.7 1831.5,760.2 1844.0,758.8 1856.5,757.4 1869.0,756.2 1881.5,755.0 1894.0,753.8 1906.5,752.6 1919.0,751.5 1931.5,750.3 1944.0,749.2 1956.5,748.1 1969.0,747.1 1981.5,746.1 1994.0,745.1 2006.5,744.3 2019.0,743.6 2031.5,742.9 2044.0,742.4 2056.5,742.0 2069.0,741.6 2081.5,741.4 2094.0,741.2 2106.5,741.0 2119.0,740.9 2131.5,740.8 2144.0,740.8 2156.5,740.8 2169.0,740.7 2181.5,740.7 2194.0,740.7 2206.5,740.7 2219.0,740.7 2231.5,740.7 2244.0,740.7" stroke="#0ff" stroke-width="10"/>
<polyline points="1306.5,785.6 1319.0,785.5 1331.5,785.3 1344.0,785.1 1356.5,784.8 1369.0,784.3 1381.5,783.7 1394.0,782.8 1406.5,781.5 1419.0,779.7 1431.5,777.1 1444.0,773.7 1456.5,769.1 1469.0,763.1 1481.5,755.5 1494.0,745.9 1506.5,734.3 1519.0,720.4 1531.5,704.4 1544.0,686.3 1556.5,666.5 1569.0,645.5 1581.5,623.9 1594.0,602.6 1606.5,582.5 1619.0,564.5 1631.5,549.6 1644.0,538.7 1656.5,532.4 1669.0,531.0 1681.5,534.6 1694.0,542.8 1706.5,555.1 1719.0,570.6 1731.5,588.4 1744.0,607.5 1756.5,627.0 1769.0,646.1 1781.5,664.2 1794.0,680.6 1806.5,695.2 1819.0,707.6 1831.5,718.0 1844.0,726.4 1856.5,733.0 1869.0,737.9 1881.5,741.5 1894.0,743.9 1906.5,745.4 1919.0,746.1 1931.5,746.4 1944.0,746.2 1956.5,745.8 1969.0,745.2 1981.5,744.5 1994.0,743.8 2006.5,743.1 2019.0,742.5 2031.5,742.0 2044.0,741.5 2056.5,741.2 2069.0,740.9 2081.5,740.6 2094.0,740.5 2106.5,740.4 2119.0,740.3 2131.5,740.3 2144.0,740.2 2156.5,740.2 2169.0,740.2 2181.5,740.2 2194.0,740.3 2206.5,740.3 2219.0,740.3 2231.5,740.3 2244.0,740.3" stroke="#0f0" stroke-width="10"/>
<polyline points="1306.5,786.6 1319.0,786.6 1331.5,786.6 1344.0,786.6 1356.5,786.6 1369.0,786.6 1381.5,786.6 1394.0,786.6 1406.5,786.6 1419.0,786.5 1431.5,786.5 1444.0,786.5 1456.5,786.4 1469.0,786.4 1481.5,786.3 1494.0,786.2 1506.5,785.9 1519.0,785.6 1531.5,785.1 1544.0,784.2 1556.5,782.7 1569.0,780.4 1581.5,776.7 1594.0,770.9 1606.5,762.2 1619.0,749.6 1631.5,731.8 1644.0,707.5 1656.5,675.9 1669.0,636.3 1681.5,588.7 1694.0,534.3 1706.5,475.1 1719.0,414.2 1731.5,355.7 1744.0,304.1 1756.5,263.7 1769.0,238.0 1781.5,229.6 1794.0,239.0 1806.5,265.3 1819.0,305.6 1831.5,356.3 1844.0,412.9 1856.5,471.1 1869.0,526.8 1881.5,577.4 1894.0,620.8 1906.5,656.3 1919.0,684.0 1931.5,704.7 1944.0,719.3 1956.5,729.2 1969.0,735.5 1981.5,739.2 1994.0,741.2 2006.5,742.1 2019.0,742.4 2031.5,742.3 2044.0,742.1 2056.5,741.8 2069.0,741.6 2081.5,741.3 2094.0,741.2 2106.5,741.0 2119.0,740.9 2131.5,740.8 2144.0,740.8 2156.5,740.8 2169.0,740.7 2181.5,740.7 2194.0,740.7 2206.5,740.7 2219.0,740.7 2231.5,740.7 2244.0,740.7" stroke="#f0f" stroke-width="10"/>
<polyline points="1306.5,786.6 1319.0,786.6 1331.5,786.6 1344.0,786.6 1356.5,786.6 1369.0,786.6 1381.5,786.6 1394.0,786.6 1406.5,786.6 1419.0,786.5 1431.5,786.5 1444.0,786.5 1456.5,786.5 1469.0,786.4 1481.5,786.3 1494.0,786.2 1506.5,786.1 1519.0,786.0 1531.5,785.8 1544.0,785.6 1556.5,785.3 1569.0,784.9 1581.5,784.5 1594.0,784.1 1606.5,783.5 1619.0,782.9 1631.5,782.2 1644.0,781.3 1656.5,780.3 1669.0,779.1 1681.5,777.7 1694.0,775.8 1706.5,773.3 1719.0,770.1 1731.5,765.7 1744.0,759.9 1756.5,752.0 1769.0,741.7 1781.5,728.1 1794.0,710.8 1806.5,689.3 1819.0,663.1 1831.5,632.2 1844.0,597.0 1856.5,558.4 1869.0,517.5 1881.5,476.4 1894.0,437.0 1906.5,401.9 1919.0,373.2 1931.5,353.0 1944.0,342.8 1956.5,343.3 1969.0,354.3 1981.5,375.0 1994.0,403.7 2006.5,438.3 2019.0,476.5 2031.5,515.9 2044.0,554.5 2056.5,590.5 2069.0,622.7 2081.5,650.4 2094.0,673.4 2106.5,691.9 2119.0,706.2 2131.5,717.0 2144.0,724.8 2156.5,730.3 2169.0,734.1 2181.5,736.6 2194.0,738.2 2206.5,739.3 2219.0,739.9 2231.5,740.2 2244.0,740.4" stroke="#00f" stroke-width="10"/>
</g>
<line x1="1908.4" x2="1996.6" y1="51.6" y2="51.6" stroke="#000" stroke-width="11" stroke-linecap="round"/>
<text transform="matrix(0.39250 0 0 0.42100 2006.30 65.70)" font-family="'Liberation Serif', serif" font-weight="bold" font-size="100" >Raw Intensity</text>
<line x1="1908.4" x2="1996.6" y1="104.4" y2="104.4" stroke="#f00" stroke-width="11" stroke-linecap="round"/>
<text transform="matrix(0.39250 0 0 0.42100 2006.30 117.80)" font-family="'Liberation Serif', serif" font-weight="bold" font-size="100" >Peak Sum</text>
<line x1="1908.4" x2="1996.6" y1="157.0" y2="157.0" stroke="#0ff" stroke-width="11" stroke-linecap="round"/>
<text transform="matrix(0.39250 0 0 0.42100 2006.30 171.10)" font-family="'Liberation Serif', serif" font-weight="bold" font-size="100" >Backgroud</text>
<line x1="1908.4" x2="1996.6" y1="209.6" y2="209.6" stroke="#0f0" stroke-width="11" stroke-linecap="round"/>
<text transform="matrix(0.39250 0 0 0.42100 2006.30 224.00)" font-family="'Liberation Serif', serif" font-weight="bold" font-size="100" >C=O</text>
<line x1="1908.4" x2="1996.6" y1="262.4" y2="262.4" stroke="#f0f" stroke-width="11" stroke-linecap="round"/>
<text transform="matrix(0.39250 0 0 0.42100 2006.30 277.00)" font-family="'Liberation Serif', serif" font-weight="bold" font-size="100" >C-OH</text>
<line x1="1908.4" x2="1996.6" y1="315.5" y2="315.5" stroke="#00f" stroke-width="11" stroke-linecap="round"/>
<text transform="matrix(0.39250 0 0 0.42100 2006.30 329.90)" font-family="'Liberation Serif', serif" font-weight="bold" font-size="100" >COOH</text>
<text transform="matrix(0.63300 0 0 0.71600 1319.46 909.10)" font-family="'Liberation Sans', sans-serif" font-weight="bold" font-size="100" >529</text>
<text transform="matrix(0.63300 0 0 0.71600 1444.56 909.10)" font-family="'Liberation Sans', sans-serif" font-weight="bold" font-size="100" >530</text>
<text transform="matrix(0.63300 0 0 0.71600 1569.14 909.10)" font-family="'Liberation Sans', sans-serif" font-weight="bold" font-size="100" >531</text>
<path transform="matrix(0.63300 0 0 0.71600 1569.14 909.10)" fill="#fff" d="M115.7 -12.6H134.5V1.5H115.7Z M148.4 -12.6H165.7V1.5H148.4Z"/>
<text transform="matrix(0.63300 0 0 0.71600 1694.56 909.10)" font-family="'Liberation Sans', sans-serif" font-weight="bold" font-size="100" >532</text>
<text transform="matrix(0.63300 0 0 0.71600 1819.46 909.10)" font-family="'Liberation Sans', sans-serif" font-weight="bold" font-size="100" >533</text>
<text transform="matrix(0.63300 0 0 0.71600 1943.51 909.10)" font-family="'Liberation Sans', sans-serif" font-weight="bold" font-size="100" >534</text>
<text transform="matrix(0.63300 0 0 0.71600 2069.24 909.10)" font-family="'Liberation Sans', sans-serif" font-weight="bold" font-size="100" >535</text>
<text transform="matrix(0.63300 0 0 0.71600 2194.46 909.10)" font-family="'Liberation Sans', sans-serif" font-weight="bold" font-size="100" >536</text>
<text transform="matrix(0.63955 0 0 0.68327 1484.04 989.42)" font-family="'Liberation Sans', sans-serif" font-weight="bold" font-size="100" >Binding energy (eV)</text>
<text transform="matrix(0 -0.69440 0.69785 0 1266.38 632.73)" font-family="'Liberation Sans', sans-serif" font-weight="bold" font-size="100">Intensity (a.u.)</text>
<text transform="matrix(0.64504 0 0 0.68065 1334.57 94.23)" font-family="'Liberation Sans', sans-serif" font-weight="bold" font-size="100" >(b)</text>
<text transform="matrix(0.50579 0 0 0.56914 1331.06 188.00)" font-family="'Liberation Sans', sans-serif" font-weight="bold" font-size="100" >400</text>
<text transform="matrix(0.52979 0 0 0.50122 1414.90 169.60)" font-family="'Liberation Sans', sans-serif" font-weight="normal" font-size="100" stroke="#000" stroke-width="3.6">o</text>
<text transform="matrix(0.49913 0 0 0.56914 1444.80 188.00)" font-family="'Liberation Sans', sans-serif" font-weight="bold" font-size="100" >C GF</text>
<clipPath id="clipc"><rect x="121.0" y="1100.5" width="936.8" height="810.8"/></clipPath>
<path d="M117 1096.2H1059.8V1915.5H117Z M125 1104.7V1907.1H1051.9V1104.7Z" fill="#000" fill-rule="evenodd"/>
<rect x="117.2" y="1914.5" width="8" height="12.9" fill="#000"/>
<rect x="250.7" y="1914.5" width="8" height="12.9" fill="#000"/>
<rect x="384.2" y="1914.5" width="8" height="12.9" fill="#000"/>
<rect x="517.7" y="1914.5" width="8" height="12.9" fill="#000"/>
<rect x="651.2" y="1914.5" width="8" height="12.9" fill="#000"/>
<rect x="784.7" y="1914.5" width="8" height="12.9" fill="#000"/>
<rect x="918.2" y="1914.5" width="8" height="12.9" fill="#000"/>
<rect x="1051.7" y="1914.5" width="8" height="12.9" fill="#000"/>
<rect x="183.9" y="1914.5" width="8" height="5.1" fill="#000"/>
<rect x="317.4" y="1914.5" width="8" height="5.1" fill="#000"/>
<rect x="450.9" y="1914.5" width="8" height="5.1" fill="#000"/>
<rect x="584.5" y="1914.5" width="8" height="5.1" fill="#000"/>
<rect x="718.0" y="1914.5" width="8" height="5.1" fill="#000"/>
<rect x="851.5" y="1914.5" width="8" height="5.1" fill="#000"/>
<rect x="985.0" y="1914.5" width="8" height="5.1" fill="#000"/>
<g clip-path="url(#clipc)" fill="none" stroke-linejoin="round" stroke-linecap="round">
<polyline points="131.2,1878.2 144.6,1896.8 157.9,1891.9 171.3,1864.6 184.6,1860.9 198.0,1878.2 211.3,1863.3 224.7,1857.0 238.0,1841.0 251.4,1842.8 264.7,1837.5 278.1,1823.5 291.4,1809.6 304.8,1796.6 318.1,1769.3 331.5,1728.9 344.8,1694.9 358.2,1666.6 371.5,1651.0 384.9,1624.8 398.2,1609.8 411.6,1571.2 424.9,1542.7 438.3,1516.0 451.6,1482.5 465.0,1449.7 478.3,1420.2 491.7,1377.0 505.0,1317.1 518.4,1275.9 531.7,1248.9 545.1,1221.6 558.4,1190.5 571.8,1241.4 585.1,1205.4 598.5,1241.4 611.8,1254.0 625.2,1291.0 638.5,1319.8 651.9,1316.4 665.2,1345.5 678.6,1367.3 691.9,1344.3 705.3,1360.4 718.6,1369.0 732.0,1396.4 745.3,1375.3 758.7,1370.8 772.0,1387.1 785.4,1431.9 798.7,1463.3 812.1,1498.6 825.4,1530.0 838.8,1541.0 852.1,1625.0 865.5,1686.2 878.8,1719.7 892.2,1733.1 905.5,1756.3 918.9,1795.9 932.2,1803.7 945.6,1832.3 958.9,1833.6 972.3,1864.6 985.6,1822.0 999.0,1859.6 1012.3,1859.6 1025.7,1879.5 1039.0,1854.7 1052.4,1878.2" stroke="#000" stroke-width="10.5"/>
<polyline points="131.2,1854.2 144.6,1854.0 157.9,1853.6 171.3,1853.1 184.6,1852.2 198.0,1850.8 211.3,1848.7 224.7,1845.5 238.0,1841.1 251.4,1834.8 264.7,1826.5 278.1,1815.5 291.4,1801.6 304.8,1784.6 318.1,1764.3 331.5,1740.9 344.8,1714.9 358.2,1686.6 371.5,1657.0 384.9,1626.5 398.2,1595.8 411.6,1565.2 424.9,1534.7 438.3,1504.0 451.6,1472.5 465.0,1439.7 478.3,1405.2 491.7,1369.0 505.0,1332.1 518.4,1295.9 531.7,1262.9 545.1,1235.6 558.4,1216.5 571.8,1207.6 585.1,1209.8 598.5,1222.6 611.8,1244.0 625.2,1271.0 638.5,1299.8 651.9,1326.4 665.2,1347.9 678.6,1362.3 691.9,1369.3 705.3,1370.3 718.6,1368.0 732.0,1365.7 745.3,1367.3 758.7,1375.8 772.0,1393.1 785.4,1419.9 798.7,1455.3 812.1,1497.3 825.4,1543.3 838.8,1590.2 852.1,1635.2 865.5,1676.2 878.8,1711.7 892.2,1741.1 905.5,1764.3 918.9,1781.9 932.2,1794.7 945.6,1803.6 958.9,1809.6 972.3,1813.5 985.6,1815.9 999.0,1817.3 1012.3,1818.1 1025.7,1818.6 1039.0,1818.9 1052.4,1819.0" stroke="#f00" stroke-width="10.5"/>
<polyline points="131.2,1854.4 144.6,1854.4 157.9,1854.4 171.3,1854.4 184.6,1854.4 198.0,1854.4 211.3,1854.4 224.7,1854.4 238.0,1854.3 251.4,1854.3 264.7,1854.3 278.1,1854.2 291.4,1854.1 304.8,1854.0 318.1,1853.8 331.5,1853.6 344.8,1853.4 358.2,1853.0 371.5,1852.7 384.9,1852.2 398.2,1851.8 411.6,1851.2 424.9,1850.6 438.3,1849.9 451.6,1849.2 465.0,1848.4 478.3,1847.5 491.7,1846.6 505.0,1845.6 518.4,1844.5 531.7,1843.4 545.1,1842.2 558.4,1840.9 571.8,1839.6 585.1,1838.4 598.5,1837.1 611.8,1835.9 625.2,1834.7 638.5,1833.6 651.9,1832.6 665.2,1831.6 678.6,1830.6 691.9,1829.7 705.3,1828.7 718.6,1827.8 732.0,1826.9 745.3,1825.9 758.7,1825.0 772.0,1824.1 785.4,1823.3 798.7,1822.5 812.1,1821.8 825.4,1821.2 838.8,1820.7 852.1,1820.3 865.5,1819.9 878.8,1819.7 892.2,1819.5 905.5,1819.4 918.9,1819.3 932.2,1819.2 945.6,1819.2 958.9,1819.1 972.3,1819.1 985.6,1819.1 999.0,1819.1 1012.3,1819.1 1025.7,1819.1 1039.0,1819.1 1052.4,1819.1" stroke="#0ff" stroke-width="10.5"/>
<polyline points="131.2,1854.2 144.6,1854.0 157.9,1853.6 171.3,1853.1 184.6,1852.2 198.0,1850.8 211.3,1848.7 224.7,1845.6 238.0,1841.1 251.4,1834.9 264.7,1826.5 278.1,1815.7 291.4,1801.9 304.8,1785.2 318.1,1765.5 331.5,1743.1 344.8,1718.8 358.2,1693.4 371.5,1668.1 384.9,1644.5 398.2,1624.1 411.6,1608.1 424.9,1597.8 438.3,1593.8 451.6,1596.5 465.0,1605.6 478.3,1620.4 491.7,1639.5 505.0,1661.8 518.4,1685.6 531.7,1709.5 545.1,1732.4 558.4,1753.2 571.8,1771.4 585.1,1786.7 598.5,1798.9 611.8,1808.4 625.2,1815.5 638.5,1820.5 651.9,1823.9 665.2,1825.9 678.6,1827.0 691.9,1827.5 705.3,1827.4 718.6,1827.0 732.0,1826.4 745.3,1825.7 758.7,1824.9 772.0,1824.0 785.4,1823.2 798.7,1822.5 812.1,1821.8 825.4,1821.2 838.8,1820.7 852.1,1820.3 865.5,1819.9 878.8,1819.7 892.2,1819.5 905.5,1819.4 918.9,1819.3 932.2,1819.2 945.6,1819.2 958.9,1819.1 972.3,1819.1 985.6,1819.1 999.0,1819.1 1012.3,1819.1 1025.7,1819.1 1039.0,1819.1 1052.4,1819.1" stroke="#0f0" stroke-width="10.5"/>
<polyline points="131.2,1854.4 144.6,1854.4 157.9,1854.4 171.3,1854.4 184.6,1854.4 198.0,1854.4 211.3,1854.4 224.7,1854.4 238.0,1854.3 251.4,1854.3 264.7,1854.2 278.1,1854.0 291.4,1853.8 304.8,1853.3 318.1,1852.6 331.5,1851.4 344.8,1849.5 358.2,1846.3 371.5,1841.5 384.9,1834.2 398.2,1823.5 411.6,1808.3 424.9,1787.6 438.3,1760.1 451.6,1725.2 465.0,1682.6 478.3,1632.6 491.7,1576.5 505.0,1516.7 518.4,1456.5 531.7,1399.7 545.1,1350.5 558.4,1312.9 571.8,1290.2 585.1,1284.2 598.5,1295.5 611.8,1322.9 625.2,1363.9 638.5,1414.8 651.9,1471.5 665.2,1530.0 678.6,1586.5 691.9,1638.1 705.3,1683.1 718.6,1720.5 732.0,1750.3 745.3,1772.9 758.7,1789.5 772.0,1801.0 785.4,1808.7 798.7,1813.6 812.1,1816.5 825.4,1818.2 838.8,1819.0 852.1,1819.4 865.5,1819.5 878.8,1819.4 892.2,1819.4 905.5,1819.3 918.9,1819.2 932.2,1819.2 945.6,1819.2 958.9,1819.1 972.3,1819.1 985.6,1819.1 999.0,1819.1 1012.3,1819.1 1025.7,1819.1 1039.0,1819.1 1052.4,1819.1" stroke="#f0f" stroke-width="10.5"/>
<polyline points="131.2,1854.4 144.6,1854.4 157.9,1854.4 171.3,1854.4 184.6,1854.4 198.0,1854.4 211.3,1854.4 224.7,1854.4 238.0,1854.3 251.4,1854.3 264.7,1854.3 278.1,1854.2 291.4,1854.1 304.8,1854.0 318.1,1853.8 331.5,1853.6 344.8,1853.4 358.2,1853.0 371.5,1852.7 384.9,1852.2 398.2,1851.8 411.6,1851.2 424.9,1850.6 438.3,1849.9 451.6,1849.1 465.0,1848.3 478.3,1847.3 491.7,1846.2 505.0,1844.7 518.4,1842.9 531.7,1840.4 545.1,1837.0 558.4,1832.2 571.8,1825.3 585.1,1815.7 598.5,1802.4 611.8,1784.4 625.2,1761.1 638.5,1731.7 651.9,1696.1 665.2,1655.1 678.6,1610.0 691.9,1563.0 705.3,1517.2 718.6,1476.0 732.0,1442.8 745.3,1420.6 758.7,1411.5 772.0,1416.3 785.4,1434.5 798.7,1464.2 812.1,1502.6 825.4,1546.3 838.8,1591.9 852.1,1636.1 865.5,1676.7 878.8,1712.0 892.2,1741.2 905.5,1764.3 918.9,1781.9 932.2,1794.7 945.6,1803.6 958.9,1809.6 972.3,1813.5 985.6,1815.9 999.0,1817.3 1012.3,1818.1 1025.7,1818.6 1039.0,1818.9 1052.4,1819.0" stroke="#00f" stroke-width="10.5"/>
</g>
<line x1="709.6" x2="798.3" y1="1147.0" y2="1147.0" stroke="#000" stroke-width="11" stroke-linecap="round"/>
<text transform="matrix(0.39250 0 0 0.42100 807.60 1161.80)" font-family="'Liberation Serif', serif" font-weight="bold" font-size="100" >Raw Intensity</text>
<line x1="709.6" x2="798.3" y1="1200.3" y2="1200.3" stroke="#f00" stroke-width="11" stroke-linecap="round"/>
<text transform="matrix(0.39250 0 0 0.42100 807.60 1215.20)" font-family="'Liberation Serif', serif" font-weight="bold" font-size="100" >Peak Sum</text>
<line x1="709.6" x2="798.3" y1="1252.6" y2="1252.6" stroke="#0ff" stroke-width="11" stroke-linecap="round"/>
<text transform="matrix(0.39250 0 0 0.42100 807.60 1267.30)" font-family="'Liberation Serif', serif" font-weight="bold" font-size="100" >Background</text>
<line x1="709.6" x2="798.3" y1="1305.7" y2="1305.7" stroke="#0f0" stroke-width="11" stroke-linecap="round"/>
<text transform="matrix(0.39250 0 0 0.42100 807.60 1320.10)" font-family="'Liberation Serif', serif" font-weight="bold" font-size="100" >C=O</text>
<line x1="709.6" x2="798.3" y1="1358.5" y2="1358.5" stroke="#f0f" stroke-width="11" stroke-linecap="round"/>
<text transform="matrix(0.39250 0 0 0.42100 807.60 1373.40)" font-family="'Liberation Serif', serif" font-weight="bold" font-size="100" >C-OH</text>
<line x1="709.6" x2="798.3" y1="1411.1" y2="1411.1" stroke="#00f" stroke-width="11" stroke-linecap="round"/>
<text transform="matrix(0.39250 0 0 0.42100 807.60 1426.00)" font-family="'Liberation Serif', serif" font-weight="bold" font-size="100" >COOH</text>
<text transform="matrix(0.63300 0 0 0.71600 69.16 1992.40)" font-family="'Liberation Sans', sans-serif" font-weight="bold" font-size="100" >529</text>
<text transform="matrix(0.63300 0 0 0.71600 202.76 1992.40)" font-family="'Liberation Sans', sans-serif" font-weight="bold" font-size="100" >530</text>
<text transform="matrix(0.63300 0 0 0.71600 335.84 1992.40)" font-family="'Liberation Sans', sans-serif" font-weight="bold" font-size="100" >531</text>
<path transform="matrix(0.63300 0 0 0.71600 335.84 1992.40)" fill="#fff" d="M115.7 -12.6H134.5V1.5H115.7Z M148.4 -12.6H165.7V1.5H148.4Z"/>
<text transform="matrix(0.63300 0 0 0.71600 469.76 1992.40)" font-family="'Liberation Sans', sans-serif" font-weight="bold" font-size="100" >532</text>
<text transform="matrix(0.63300 0 0 0.71600 603.16 1992.40)" font-family="'Liberation Sans', sans-serif" font-weight="bold" font-size="100" >533</text>
<text transform="matrix(0.63300 0 0 0.71600 735.71 1992.40)" font-family="'Liberation Sans', sans-serif" font-weight="bold" font-size="100" >534</text>
<text transform="matrix(0.63300 0 0 0.71600 869.94 1992.40)" font-family="'Liberation Sans', sans-serif" font-weight="bold" font-size="100" >535</text>
<text transform="matrix(0.63300 0 0 0.71600 1003.66 1992.40)" font-family="'Liberation Sans', sans-serif" font-weight="bold" font-size="100" >536</text>
<text transform="matrix(0.63891 0 0 0.68327 287.64 2084.22)" font-family="'Liberation Sans', sans-serif" font-weight="bold" font-size="100" >Binding energy (eV)</text>
<text transform="matrix(0 -0.69665 0.70645 0 79.70 1713.84)" font-family="'Liberation Sans', sans-serif" font-weight="bold" font-size="100">Intensity (a.u.)</text>
<text transform="matrix(0.64362 0 0 0.68495 141.78 1181.84)" font-family="'Liberation Sans', sans-serif" font-weight="bold" font-size="100" >(c)</text>
<text transform="matrix(0.50187 0 0 0.56987 129.29 1278.75)" font-family="'Liberation Sans', sans-serif" font-weight="bold" font-size="100" >500</text>
<text transform="matrix(0.35250 0 0 0.36768 211.69 1256.83)" font-family="'Liberation Sans', sans-serif" font-weight="bold" font-size="100" >o</text>
<text transform="matrix(0.50216 0 0 0.56987 232.99 1278.75)" font-family="'Liberation Sans', sans-serif" font-weight="bold" font-size="100" >C GF</text>
<clipPath id="clipd"><rect x="1318.1" y="1103.3" width="941.1" height="810.2"/></clipPath>
<path d="M1313.9 1098.9H2257V1917.9H1313.9Z M1322.2 1107.8V1909.2H2249.3V1107.8Z" fill="#000" fill-rule="evenodd"/>
<rect x="1427.8" y="1916.9" width="8" height="12.6" fill="#000"/>
<rect x="1560.8" y="1916.9" width="8" height="12.6" fill="#000"/>
<rect x="1693.8" y="1916.9" width="8" height="12.6" fill="#000"/>
<rect x="1826.8" y="1916.9" width="8" height="12.6" fill="#000"/>
<rect x="1959.8" y="1916.9" width="8" height="12.6" fill="#000"/>
<rect x="2092.8" y="1916.9" width="8" height="12.6" fill="#000"/>
<rect x="2225.8" y="1916.9" width="8" height="12.6" fill="#000"/>
<rect x="1361.3" y="1916.9" width="8" height="4.5" fill="#000"/>
<rect x="1494.3" y="1916.9" width="8" height="4.5" fill="#000"/>
<rect x="1627.3" y="1916.9" width="8" height="4.5" fill="#000"/>
<rect x="1760.3" y="1916.9" width="8" height="4.5" fill="#000"/>
<rect x="1893.3" y="1916.9" width="8" height="4.5" fill="#000"/>
<rect x="2026.3" y="1916.9" width="8" height="4.5" fill="#000"/>
<rect x="2159.3" y="1916.9" width="8" height="4.5" fill="#000"/>
<g clip-path="url(#clipd)" fill="none" stroke-linejoin="round" stroke-linecap="round">
<polyline points="1323.7,1810.4 1330.4,1809.8 1337.0,1804.1 1343.7,1795.0 1350.3,1808.8 1357.0,1810.0 1363.6,1809.2 1370.3,1808.4 1376.9,1807.5 1383.6,1806.6 1390.2,1805.6 1396.9,1804.6 1403.5,1807.5 1410.2,1843.0 1416.8,1820.0 1423.5,1808.0 1430.1,1800.5 1436.8,1815.0 1443.4,1829.0 1450.1,1812.0 1456.7,1800.0 1463.4,1795.0 1470.0,1791.6 1476.7,1790.0 1483.3,1778.0 1490.0,1769.3 1496.6,1776.0 1503.3,1782.0 1509.9,1787.0 1516.6,1790.0 1523.2,1775.0 1529.9,1763.0 1536.5,1745.0 1543.2,1724.5 1549.8,1737.0 1556.5,1730.0 1563.1,1722.0 1569.8,1699.0 1576.4,1645.1 1583.1,1633.8 1589.7,1601.0 1596.4,1575.1 1603.0,1483.2 1609.7,1474.8 1616.3,1436.5 1623.0,1397.0 1629.6,1362.4 1636.3,1325.9 1642.9,1286.2 1649.6,1251.4 1656.2,1249.0 1662.9,1244.3 1669.5,1218.6 1676.2,1188.0 1682.8,1183.7 1689.5,1204.4 1696.1,1197.0 1702.8,1183.7 1709.4,1213.2 1716.1,1215.4 1722.7,1176.0 1729.4,1198.0 1736.0,1203.4 1742.7,1158.0 1749.3,1198.0 1756.0,1188.0 1762.6,1193.5 1769.3,1236.0 1775.9,1206.6 1782.6,1202.8 1789.2,1268.9 1795.9,1262.0 1802.5,1303.4 1809.2,1316.0 1815.8,1346.2 1822.5,1373.2 1829.1,1404.2 1835.8,1434.9 1842.4,1474.0 1849.1,1509.0 1855.7,1537.7 1862.4,1554.9 1869.0,1575.4 1875.7,1597.3 1882.3,1608.6 1889.0,1627.2 1895.6,1638.3 1902.3,1665.8 1908.9,1669.6 1915.6,1664.0 1922.2,1661.1 1928.9,1696.0 1935.5,1699.7 1942.2,1667.2 1948.8,1688.4 1955.5,1676.2 1962.1,1695.0 1968.8,1712.0 1975.4,1705.0 1982.1,1689.4 1988.7,1707.0 1995.4,1725.2 2002.0,1700.2 2008.7,1718.6 2015.3,1698.3 2022.0,1735.6 2028.6,1733.0 2035.3,1724.3 2041.9,1735.0 2048.6,1743.1 2055.2,1728.0 2061.9,1727.0 2068.5,1723.0 2075.2,1745.0 2081.8,1749.0 2088.5,1748.0 2095.1,1752.0 2101.8,1745.0 2108.4,1739.4 2115.1,1757.0 2121.7,1746.0 2128.4,1741.3 2135.0,1760.0 2141.7,1737.5 2148.3,1738.0 2155.0,1759.0 2161.6,1733.3 2168.3,1742.0 2174.9,1747.0 2181.6,1764.8 2188.2,1751.6 2194.9,1752.5 2201.5,1754.0 2208.2,1764.8 2214.8,1759.2 2221.5,1763.0 2228.1,1766.7 2234.8,1754.5 2241.4,1757.0 2248.1,1747.9" stroke="#000" stroke-width="9.3"/>
<polyline points="1323.7,1805.4 1330.4,1804.8 1337.0,1804.1 1343.7,1803.5 1350.3,1802.8 1357.0,1802.0 1363.6,1801.2 1370.3,1800.4 1376.9,1799.5 1383.6,1798.6 1390.2,1797.6 1396.9,1796.6 1403.5,1795.5 1410.2,1794.3 1416.8,1793.1 1423.5,1791.8 1430.1,1790.4 1436.8,1788.9 1443.4,1787.3 1450.1,1785.6 1456.7,1783.7 1463.4,1781.7 1470.0,1779.6 1476.7,1777.2 1483.3,1774.6 1490.0,1771.7 1496.6,1768.4 1503.3,1764.6 1509.9,1760.4 1516.6,1755.4 1523.2,1749.6 1529.9,1742.7 1536.5,1734.6 1543.2,1724.9 1549.8,1713.4 1556.5,1699.8 1563.1,1683.8 1569.8,1665.1 1576.4,1643.5 1583.1,1618.8 1589.7,1591.0 1596.4,1560.1 1603.0,1526.2 1609.7,1489.8 1616.3,1451.5 1623.0,1412.0 1629.6,1372.4 1636.3,1333.9 1642.9,1294.2 1649.6,1256.4 1656.2,1228.3 1662.9,1209.4 1669.5,1198.7 1676.2,1194.0 1682.8,1192.8 1689.5,1192.9 1696.1,1194.1 1702.8,1195.3 1709.4,1196.3 1716.1,1195.5 1722.7,1193.8 1729.4,1191.9 1736.0,1190.0 1742.7,1189.7 1749.3,1191.4 1756.0,1196.6 1762.6,1205.7 1769.3,1216.6 1775.9,1231.0 1782.6,1247.8 1789.2,1266.8 1795.9,1288.2 1802.5,1311.4 1809.2,1336.0 1815.8,1362.2 1822.5,1389.2 1829.1,1416.2 1835.8,1442.9 1842.4,1469.0 1849.1,1494.0 1855.7,1517.7 1862.4,1539.9 1869.0,1560.4 1875.7,1579.3 1882.3,1596.6 1889.0,1612.2 1895.6,1626.3 1902.3,1639.1 1908.9,1650.6 1915.6,1661.0 1922.2,1670.3 1928.9,1678.7 1935.5,1686.4 1942.2,1693.3 1948.8,1699.5 1955.5,1705.3 1962.1,1710.5 1968.8,1715.3 1975.4,1719.7 1982.1,1723.7 1988.7,1727.4 1995.4,1730.8 2002.0,1734.0 2008.7,1737.0 2015.3,1739.7 2022.0,1742.2 2028.6,1744.6 2035.3,1746.8 2041.9,1748.8 2048.6,1750.7 2055.2,1752.5 2061.9,1754.2 2068.5,1755.8 2075.2,1757.3 2081.8,1758.7 2088.5,1760.0 2095.1,1761.2 2101.8,1762.4 2108.4,1763.5 2115.1,1764.5 2121.7,1765.5 2128.4,1766.4 2135.0,1767.3 2141.7,1768.1 2148.3,1768.9 2155.0,1769.7 2161.6,1770.4 2168.3,1771.1 2174.9,1771.7 2181.6,1772.3 2188.2,1772.9 2194.9,1773.5 2201.5,1774.0 2208.2,1774.5 2214.8,1775.0 2221.5,1775.5 2228.1,1776.0 2234.8,1776.4 2241.4,1776.8 2248.1,1777.2" stroke="#f00" stroke-width="9.3"/>
<polyline points="1323.7,1823.9 1330.4,1823.9 1337.0,1823.9 1343.7,1823.8 1350.3,1823.8 1357.0,1823.8 1363.6,1823.8 1370.3,1823.7 1376.9,1823.7 1383.6,1823.7 1390.2,1823.6 1396.9,1823.6 1403.5,1823.6 1410.2,1823.5 1416.8,1823.5 1423.5,1823.5 1430.1,1823.4 1436.8,1823.4 1443.4,1823.3 1450.1,1823.3 1456.7,1823.3 1463.4,1823.2 1470.0,1823.2 1476.7,1823.1 1483.3,1823.0 1490.0,1823.0 1496.6,1822.9 1503.3,1822.9 1509.9,1822.8 1516.6,1822.7 1523.2,1822.6 1529.9,1822.5 1536.5,1822.4 1543.2,1822.3 1549.8,1822.2 1556.5,1822.1 1563.1,1821.9 1569.8,1821.7 1576.4,1821.5 1583.1,1821.3 1589.7,1821.0 1596.4,1820.7 1603.0,1820.4 1609.7,1820.0 1616.3,1819.6 1623.0,1819.1 1629.6,1818.6 1636.3,1818.1 1642.9,1817.5 1649.6,1816.8 1656.2,1816.2 1662.9,1815.5 1669.5,1814.8 1676.2,1814.0 1682.8,1813.3 1689.5,1812.6 1696.1,1811.8 1702.8,1811.1 1709.4,1810.4 1716.1,1809.7 1722.7,1808.9 1729.4,1808.2 1736.0,1807.4 1742.7,1806.7 1749.3,1805.9 1756.0,1805.2 1762.6,1804.5 1769.3,1803.7 1775.9,1803.0 1782.6,1802.4 1789.2,1801.7 1795.9,1801.1 1802.5,1800.5 1809.2,1799.9 1815.8,1799.4 1822.5,1798.9 1829.1,1798.4 1835.8,1797.9 1842.4,1797.5 1849.1,1797.2 1855.7,1796.8 1862.4,1796.5 1869.0,1796.2 1875.7,1795.9 1882.3,1795.7 1889.0,1795.5 1895.6,1795.2 1902.3,1795.1 1908.9,1794.9 1915.6,1794.7 1922.2,1794.6 1928.9,1794.4 1935.5,1794.3 1942.2,1794.1 1948.8,1794.0 1955.5,1793.9 1962.1,1793.8 1968.8,1793.7 1975.4,1793.6 1982.1,1793.5 1988.7,1793.5 1995.4,1793.4 2002.0,1793.3 2008.7,1793.2 2015.3,1793.2 2022.0,1793.1 2028.6,1793.1 2035.3,1793.0 2041.9,1792.9 2048.6,1792.9 2055.2,1792.8 2061.9,1792.8 2068.5,1792.8 2075.2,1792.7 2081.8,1792.7 2088.5,1792.6 2095.1,1792.6 2101.8,1792.6 2108.4,1792.5 2115.1,1792.5 2121.7,1792.5 2128.4,1792.4 2135.0,1792.4 2141.7,1792.4 2148.3,1792.3 2155.0,1792.3 2161.6,1792.3 2168.3,1792.3 2174.9,1792.2 2181.6,1792.2 2188.2,1792.2 2194.9,1792.2 2201.5,1792.1 2208.2,1792.1 2214.8,1792.1 2221.5,1792.1 2228.1,1792.1 2234.8,1792.0 2241.4,1792.0 2248.1,1792.0" stroke="#0ff" stroke-width="9.3"/>
<polyline points="1323.7,1818.6 1330.4,1818.3 1337.0,1818.1 1343.7,1817.8 1350.3,1817.5 1357.0,1817.3 1363.6,1816.9 1370.3,1816.6 1376.9,1816.3 1383.6,1815.9 1390.2,1815.5 1396.9,1815.0 1403.5,1814.6 1410.2,1814.1 1416.8,1813.5 1423.5,1813.0 1430.1,1812.3 1436.8,1811.7 1443.4,1810.9 1450.1,1810.1 1456.7,1809.3 1463.4,1808.3 1470.0,1807.2 1476.7,1806.0 1483.3,1804.6 1490.0,1803.0 1496.6,1801.1 1503.3,1798.8 1509.9,1796.1 1516.6,1792.9 1523.2,1788.9 1529.9,1784.0 1536.5,1778.0 1543.2,1770.7 1549.8,1761.7 1556.5,1750.9 1563.1,1738.0 1569.8,1722.7 1576.4,1704.9 1583.1,1684.4 1589.7,1661.4 1596.4,1635.8 1603.0,1608.1 1609.7,1578.7 1616.3,1548.2 1623.0,1517.8 1629.6,1488.7 1636.3,1462.3 1642.9,1440.5 1649.6,1425.0 1656.2,1417.2 1662.9,1417.8 1669.5,1426.7 1676.2,1442.9 1682.8,1464.9 1689.5,1491.0 1696.1,1519.4 1702.8,1548.8 1709.4,1577.9 1716.1,1605.8 1722.7,1631.8 1729.4,1655.6 1736.0,1676.9 1742.7,1695.6 1749.3,1711.7 1756.0,1725.4 1762.6,1736.7 1769.3,1746.1 1775.9,1753.7 1782.6,1759.9 1789.2,1764.7 1795.9,1768.6 1802.5,1771.7 1809.2,1774.1 1815.8,1776.0 1822.5,1777.6 1829.1,1778.8 1835.8,1779.9 1842.4,1780.8 1849.1,1781.5 1855.7,1782.2 1862.4,1782.8 1869.0,1783.3 1875.7,1783.7 1882.3,1784.2 1889.0,1784.6 1895.6,1784.9 1902.3,1785.2 1908.9,1785.6 1915.6,1785.8 1922.2,1786.1 1928.9,1786.4 1935.5,1786.6 1942.2,1786.8 1948.8,1787.0 1955.5,1787.2 1962.1,1787.4 1968.8,1787.5 1975.4,1787.7 1982.1,1787.9 1988.7,1788.0 1995.4,1788.1 2002.0,1788.2 2008.7,1788.4 2015.3,1788.5 2022.0,1788.6 2028.6,1788.7 2035.3,1788.8 2041.9,1788.9 2048.6,1788.9 2055.2,1789.0 2061.9,1789.1 2068.5,1789.2 2075.2,1789.2 2081.8,1789.3 2088.5,1789.4 2095.1,1789.4 2101.8,1789.5 2108.4,1789.5 2115.1,1789.6 2121.7,1789.6 2128.4,1789.7 2135.0,1789.7 2141.7,1789.8 2148.3,1789.8 2155.0,1789.8 2161.6,1789.9 2168.3,1789.9 2174.9,1789.9 2181.6,1790.0 2188.2,1790.0 2194.9,1790.0 2201.5,1790.1 2208.2,1790.1 2214.8,1790.1 2221.5,1790.2 2228.1,1790.2 2234.8,1790.2 2241.4,1790.2 2248.1,1790.2" stroke="#0f0" stroke-width="9.3"/>
<polyline points="1323.7,1818.2 1330.4,1818.0 1337.0,1817.8 1343.7,1817.6 1350.3,1817.4 1357.0,1817.1 1363.6,1816.9 1370.3,1816.6 1376.9,1816.3 1383.6,1816.0 1390.2,1815.7 1396.9,1815.4 1403.5,1815.1 1410.2,1814.7 1416.8,1814.3 1423.5,1813.9 1430.1,1813.5 1436.8,1813.1 1443.4,1812.6 1450.1,1812.1 1456.7,1811.6 1463.4,1811.0 1470.0,1810.4 1476.7,1809.8 1483.3,1809.1 1490.0,1808.3 1496.6,1807.6 1503.3,1806.7 1509.9,1805.8 1516.6,1804.8 1523.2,1803.7 1529.9,1802.6 1536.5,1801.3 1543.2,1799.8 1549.8,1798.3 1556.5,1796.5 1563.1,1794.5 1569.8,1792.3 1576.4,1789.8 1583.1,1786.8 1589.7,1783.5 1596.4,1779.6 1603.0,1775.0 1609.7,1769.8 1616.3,1763.7 1623.0,1756.6 1629.6,1748.3 1636.3,1738.9 1642.9,1728.1 1649.6,1715.7 1656.2,1701.8 1662.9,1686.2 1669.5,1669.0 1676.2,1650.0 1682.8,1629.5 1689.5,1607.5 1696.1,1584.3 1702.8,1560.4 1709.4,1536.1 1716.1,1512.4 1722.7,1490.0 1729.4,1470.1 1736.0,1453.9 1742.7,1442.5 1749.3,1436.8 1756.0,1437.2 1762.6,1443.6 1769.3,1455.4 1775.9,1471.7 1782.6,1491.2 1789.2,1512.8 1795.9,1535.5 1802.5,1558.4 1809.2,1580.8 1815.8,1602.3 1822.5,1622.6 1829.1,1641.3 1835.8,1658.5 1842.4,1674.0 1849.1,1687.9 1855.7,1700.2 1862.4,1711.0 1869.0,1720.5 1875.7,1728.6 1882.3,1735.7 1889.0,1741.7 1895.6,1746.9 1902.3,1751.3 1908.9,1755.1 1915.6,1758.3 1922.2,1761.1 1928.9,1763.6 1935.5,1765.7 1942.2,1767.5 1948.8,1769.1 1955.5,1770.6 1962.1,1771.9 1968.8,1773.0 1975.4,1774.1 1982.1,1775.0 1988.7,1775.9 1995.4,1776.7 2002.0,1777.5 2008.7,1778.2 2015.3,1778.8 2022.0,1779.4 2028.6,1779.9 2035.3,1780.5 2041.9,1781.0 2048.6,1781.4 2055.2,1781.8 2061.9,1782.2 2068.5,1782.6 2075.2,1783.0 2081.8,1783.3 2088.5,1783.6 2095.1,1783.9 2101.8,1784.2 2108.4,1784.4 2115.1,1784.7 2121.7,1784.9 2128.4,1785.1 2135.0,1785.4 2141.7,1785.6 2148.3,1785.7 2155.0,1785.9 2161.6,1786.1 2168.3,1786.3 2174.9,1786.4 2181.6,1786.6 2188.2,1786.7 2194.9,1786.9 2201.5,1787.0 2208.2,1787.1 2214.8,1787.2 2221.5,1787.3 2228.1,1787.4 2234.8,1787.6 2241.4,1787.7 2248.1,1787.7" stroke="#f0f" stroke-width="9.3"/>
<polyline points="1323.7,1816.4 1330.4,1816.2 1337.0,1816.0 1343.7,1815.7 1350.3,1815.5 1357.0,1815.2 1363.6,1814.9 1370.3,1814.6 1376.9,1814.3 1383.6,1814.0 1390.2,1813.7 1396.9,1813.4 1403.5,1813.0 1410.2,1812.6 1416.8,1812.2 1423.5,1811.8 1430.1,1811.4 1436.8,1810.9 1443.4,1810.5 1450.1,1810.0 1456.7,1809.4 1463.4,1808.9 1470.0,1808.3 1476.7,1807.7 1483.3,1807.0 1490.0,1806.3 1496.6,1805.6 1503.3,1804.8 1509.9,1804.0 1516.6,1803.1 1523.2,1802.2 1529.9,1801.2 1536.5,1800.1 1543.2,1799.0 1549.8,1797.8 1556.5,1796.5 1563.1,1795.1 1569.8,1793.6 1576.4,1791.9 1583.1,1790.2 1589.7,1788.2 1596.4,1786.2 1603.0,1783.9 1609.7,1781.5 1616.3,1778.8 1623.0,1775.9 1629.6,1772.7 1636.3,1769.3 1642.9,1765.6 1649.6,1761.6 1656.2,1757.2 1662.9,1752.5 1669.5,1747.5 1676.2,1742.0 1682.8,1736.0 1689.5,1729.6 1696.1,1722.7 1702.8,1715.3 1709.4,1707.3 1716.1,1698.7 1722.7,1689.5 1729.4,1679.7 1736.0,1669.4 1742.7,1658.7 1749.3,1647.6 1756.0,1636.4 1762.6,1625.3 1769.3,1614.6 1775.9,1604.8 1782.6,1596.1 1789.2,1589.1 1795.9,1584.0 1802.5,1581.2 1809.2,1580.7 1815.8,1582.6 1822.5,1586.7 1829.1,1592.8 1835.8,1600.5 1842.4,1609.3 1849.1,1618.9 1855.7,1628.9 1862.4,1639.1 1869.0,1649.1 1875.7,1658.8 1882.3,1668.1 1889.0,1676.8 1895.6,1685.0 1902.3,1692.6 1908.9,1699.7 1915.6,1706.2 1922.2,1712.1 1928.9,1717.6 1935.5,1722.7 1942.2,1727.3 1948.8,1731.5 1955.5,1735.3 1962.1,1738.9 1968.8,1742.2 1975.4,1745.1 1982.1,1747.9 1988.7,1750.4 1995.4,1752.8 2002.0,1754.9 2008.7,1756.9 2015.3,1758.8 2022.0,1760.5 2028.6,1762.1 2035.3,1763.5 2041.9,1764.9 2048.6,1766.2 2055.2,1767.4 2061.9,1768.5 2068.5,1769.5 2075.2,1770.5 2081.8,1771.4 2088.5,1772.3 2095.1,1773.1 2101.8,1773.8 2108.4,1774.5 2115.1,1775.2 2121.7,1775.8 2128.4,1776.4 2135.0,1777.0 2141.7,1777.5 2148.3,1778.0 2155.0,1778.5 2161.6,1779.0 2168.3,1779.4 2174.9,1779.8 2181.6,1780.2 2188.2,1780.6 2194.9,1780.9 2201.5,1781.3 2208.2,1781.6 2214.8,1781.9 2221.5,1782.2 2228.1,1782.4 2234.8,1782.7 2241.4,1783.0 2248.1,1783.2" stroke="#00f" stroke-width="9.3"/>
</g>
<line x1="1907.4" x2="1995.6" y1="1141.3" y2="1141.3" stroke="#000" stroke-width="11" stroke-linecap="round"/>
<text transform="matrix(0.39250 0 0 0.42100 2005.60 1155.60)" font-family="'Liberation Serif', serif" font-weight="bold" font-size="100" >Raw Intensity</text>
<line x1="1907.4" x2="1995.6" y1="1194.6" y2="1194.6" stroke="#f00" stroke-width="11" stroke-linecap="round"/>
<text transform="matrix(0.39250 0 0 0.42100 2005.60 1209.00)" font-family="'Liberation Serif', serif" font-weight="bold" font-size="100" >Peak Sum</text>
<line x1="1907.4" x2="1995.6" y1="1246.9" y2="1246.9" stroke="#0ff" stroke-width="11" stroke-linecap="round"/>
<text transform="matrix(0.39250 0 0 0.42100 2005.60 1261.80)" font-family="'Liberation Serif', serif" font-weight="bold" font-size="100" >Background</text>
<line x1="1907.4" x2="1995.6" y1="1299.5" y2="1299.5" stroke="#0f0" stroke-width="11" stroke-linecap="round"/>
<text transform="matrix(0.39250 0 0 0.42100 2005.60 1313.90)" font-family="'Liberation Serif', serif" font-weight="bold" font-size="100" >C=O</text>
<line x1="1907.4" x2="1995.6" y1="1352.1" y2="1352.1" stroke="#f0f" stroke-width="11" stroke-linecap="round"/>
<text transform="matrix(0.39250 0 0 0.42100 2005.60 1367.00)" font-family="'Liberation Serif', serif" font-weight="bold" font-size="100" >C-OH</text>
<line x1="1907.4" x2="1995.6" y1="1404.9" y2="1404.9" stroke="#00f" stroke-width="11" stroke-linecap="round"/>
<text transform="matrix(0.39250 0 0 0.42100 2005.60 1419.30)" font-family="'Liberation Serif', serif" font-weight="bold" font-size="100" >COOH</text>
<text transform="matrix(0.63300 0 0 0.71600 1379.54 1995.00)" font-family="'Liberation Sans', sans-serif" font-weight="bold" font-size="100" >528</text>
<text transform="matrix(0.63300 0 0 0.71600 1512.86 1995.00)" font-family="'Liberation Sans', sans-serif" font-weight="bold" font-size="100" >530</text>
<text transform="matrix(0.63300 0 0 0.71600 1645.86 1995.00)" font-family="'Liberation Sans', sans-serif" font-weight="bold" font-size="100" >532</text>
<text transform="matrix(0.63300 0 0 0.71600 1777.81 1995.00)" font-family="'Liberation Sans', sans-serif" font-weight="bold" font-size="100" >534</text>
<text transform="matrix(0.63300 0 0 0.71600 1911.76 1995.00)" font-family="'Liberation Sans', sans-serif" font-weight="bold" font-size="100" >536</text>
<text transform="matrix(0.63300 0 0 0.71600 2044.54 1995.00)" font-family="'Liberation Sans', sans-serif" font-weight="bold" font-size="100" >538</text>
<text transform="matrix(0.63300 0 0 0.71600 2177.86 1995.00)" font-family="'Liberation Sans', sans-serif" font-weight="bold" font-size="100" >540</text>
<text transform="matrix(0.64009 0 0 0.69502 1484.03 2071.27)" font-family="'Liberation Sans', sans-serif" font-weight="bold" font-size="100" >Binding energy (eV)</text>
<text transform="matrix(0 -0.69800 0.69462 0 1282.04 1733.95)" font-family="'Liberation Sans', sans-serif" font-weight="bold" font-size="100">Intensity (a.u.)</text>
<text transform="matrix(0.65014 0 0 0.67849 1339.75 1186.48)" font-family="'Liberation Sans', sans-serif" font-weight="bold" font-size="100" >(d)</text>
<text transform="matrix(0.49707 0 0 0.56987 1333.88 1274.75)" font-family="'Liberation Sans', sans-serif" font-weight="bold" font-size="100" >600</text>
<text transform="matrix(0.53830 0 0 0.50122 1417.57 1256.70)" font-family="'Liberation Sans', sans-serif" font-weight="normal" font-size="100" stroke="#000" stroke-width="3.6">o</text>
<text transform="matrix(0.50390 0 0 0.56987 1446.88 1274.75)" font-family="'Liberation Sans', sans-serif" font-weight="bold" font-size="100" >C GF</text>
</svg></body></html>
